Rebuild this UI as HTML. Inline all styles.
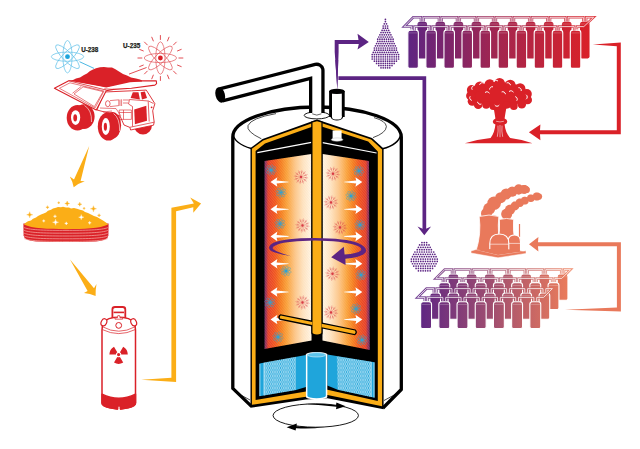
<!DOCTYPE html>
<html><head><meta charset="utf-8"><title>Uranium enrichment</title>
<style>
html,body{margin:0;padding:0;background:#fff;}
body{width:640px;height:449px;overflow:hidden;font-family:"Liberation Sans",sans-serif;}
svg{display:block;}
text{font-family:"Liberation Sans",sans-serif;font-weight:bold;}
</style></head><body>
<svg width="640" height="449" viewBox="0 0 640 449">
<defs>
<linearGradient id="gL" x1="264.5" y1="0" x2="311.5" y2="0" gradientUnits="userSpaceOnUse"><stop offset="0" stop-color="#6A2A66"/><stop offset="0.035" stop-color="#9A2A55"/><stop offset="0.075" stop-color="#E23A2A"/><stop offset="0.22" stop-color="#F0501F"/><stop offset="0.35" stop-color="#F47A1F"/><stop offset="0.48" stop-color="#F9A03C"/><stop offset="0.65" stop-color="#FCC58C"/><stop offset="0.82" stop-color="#FEE3C6"/><stop offset="1" stop-color="#FFF6EC"/></linearGradient>
<linearGradient id="gR" x1="322.5" y1="0" x2="369.5" y2="0" gradientUnits="userSpaceOnUse"><stop offset="0" stop-color="#FFF6EC"/><stop offset="0.18" stop-color="#FEE3C6"/><stop offset="0.35" stop-color="#FCC58C"/><stop offset="0.52" stop-color="#F9A03C"/><stop offset="0.65" stop-color="#F47A1F"/><stop offset="0.78" stop-color="#F0501F"/><stop offset="0.925" stop-color="#E23A2A"/><stop offset="0.965" stop-color="#9A2A55"/><stop offset="1" stop-color="#6A2A66"/></linearGradient>
<linearGradient id="gC1" x1="405" y1="0" x2="590" y2="0" gradientUnits="userSpaceOnUse">
 <stop offset="0" stop-color="#5C2483"/><stop offset="0.5" stop-color="#A3264F"/><stop offset="1" stop-color="#DA2128"/>
</linearGradient>
<linearGradient id="gC2" x1="417" y1="0" x2="572" y2="0" gradientUnits="userSpaceOnUse">
 <stop offset="0" stop-color="#5C2483"/><stop offset="0.5" stop-color="#A3506F"/><stop offset="1" stop-color="#EE7E5A"/>
</linearGradient>
<pattern id="dots" width="1.3" height="1.3" patternUnits="userSpaceOnUse" patternTransform="rotate(-32)">
 <rect x="0" y="0" width="1.3" height="0.5" fill="#FFE08A" fill-opacity="0.22"/>
</pattern>
<pattern id="hatch" width="2.2" height="4" patternUnits="userSpaceOnUse">
 <path d="M0.3,0 Q1.4,2 0.3,4 M1.9,0 Q0.8,2 1.9,4" stroke="#fff" stroke-opacity="0.8" stroke-width="0.6" fill="none"/>
</pattern>
</defs>
<rect width="640" height="449" fill="#fff"/>

<g id="atoms">
<g fill="none" stroke="#5FC0E8" stroke-width="0.7"><ellipse cx="67.5" cy="56.7" rx="16.2" ry="4.6" transform="rotate(0 67.5 56.7)"/><ellipse cx="67.5" cy="56.7" rx="16.2" ry="4.6" transform="rotate(45 67.5 56.7)"/><ellipse cx="67.5" cy="56.7" rx="16.2" ry="4.6" transform="rotate(90 67.5 56.7)"/><ellipse cx="67.5" cy="56.7" rx="16.2" ry="4.6" transform="rotate(135 67.5 56.7)"/></g><circle cx="67.5" cy="56.7" r="2.4" fill="#1FA5DB"/>
<g fill="none" stroke="#E2555A" stroke-width="0.7"><ellipse cx="160.4" cy="58" rx="16.2" ry="4.6" transform="rotate(0 160.4 58)"/><ellipse cx="160.4" cy="58" rx="16.2" ry="4.6" transform="rotate(45 160.4 58)"/><ellipse cx="160.4" cy="58" rx="16.2" ry="4.6" transform="rotate(90 160.4 58)"/><ellipse cx="160.4" cy="58" rx="16.2" ry="4.6" transform="rotate(135 160.4 58)"/></g><circle cx="160.4" cy="58" r="2.4" fill="#DA2128"/><g stroke="#DA2128" stroke-width="0.8" stroke-linecap="round"><line x1="178.9" y1="58.0" x2="182.9" y2="58.0"/><line x1="177.5" y1="65.1" x2="181.2" y2="66.6"/><line x1="173.5" y1="71.1" x2="176.3" y2="73.9"/><line x1="167.5" y1="75.1" x2="169.0" y2="78.8"/><line x1="160.4" y1="76.5" x2="160.4" y2="80.5"/><line x1="153.3" y1="75.1" x2="151.8" y2="78.8"/><line x1="147.3" y1="71.1" x2="144.5" y2="73.9"/><line x1="143.3" y1="65.1" x2="139.6" y2="66.6"/><line x1="141.9" y1="58.0" x2="137.9" y2="58.0"/><line x1="143.3" y1="50.9" x2="139.6" y2="49.4"/><line x1="147.3" y1="44.9" x2="144.5" y2="42.1"/><line x1="153.3" y1="40.9" x2="151.8" y2="37.2"/><line x1="160.4" y1="39.5" x2="160.4" y2="35.5"/><line x1="167.5" y1="40.9" x2="169.0" y2="37.2"/><line x1="173.5" y1="44.9" x2="176.3" y2="42.1"/><line x1="177.5" y1="50.9" x2="181.2" y2="49.4"/></g>
<line x1="79.5" y1="61.7" x2="94" y2="68.4" stroke="#1FA5DB" stroke-width="0.8"/>
<line x1="146.6" y1="67.5" x2="129" y2="74.1" stroke="#DA2128" stroke-width="0.8"/>
<text x="81.2" y="51.8" font-size="6.3" fill="#231F20" stroke="#231F20" stroke-width="0.25">U-238</text>
<text x="123" y="47.9" font-size="6.3" fill="#231F20" stroke="#231F20" stroke-width="0.25">U-235</text>
</g>
<g id="truck" stroke="#DA2128" stroke-width="1.1" stroke-linejoin="round" fill="#fff">
<!-- far front wheel under bumper -->
<ellipse cx="143" cy="125" rx="9" ry="9.6" fill="#DA2128" stroke="none"/>
<!-- rear wheel -->
<ellipse cx="84" cy="116.6" rx="10.6" ry="12.4" fill="#DA2128" stroke="none"/>
<ellipse cx="77.5" cy="117.7" rx="10.8" ry="12.8" fill="#DA2128" stroke="none"/>
<ellipse cx="75.6" cy="117.6" rx="4.6" ry="7.4" fill="#fff" stroke="none"/>
<ellipse cx="75.2" cy="117.8" rx="1.9" ry="3.6" fill="#DA2128" stroke="none"/>
<path d="M84.5,105.5 Q92,110 91.5,122" fill="none" stroke="#fff" stroke-width="0.6"/>
<!-- chassis / cab -->
<path d="M104.5,92 L131.4,90.8 L146.3,90.1 L154.9,103.7 L152.7,110.8 L154.2,122.2 L153.5,125.2 L130.6,130 L129.9,127.4 L124,125 L120,116 L97,110 Z" fill="#fff" stroke-width="0.9"/>
<path d="M132.8,92.3 L138.5,92.3 L139.9,99.4 L130.6,98 Z" fill="#DA2128" stroke="none"/>
<path d="M140.6,92.3 L144.9,91.5 L147,98 L142,99.4 Z" fill="#DA2128" stroke="none"/>
<path d="M134.2,109.4 L146.3,105.8 L147,120.8 L134.9,124.3 Z" fill="#DA2128" stroke="none"/>
<circle cx="151.6" cy="107.3" r="0.9" fill="#DA2128" stroke="none"/>
<path d="M129.5,99.5 L148.5,101 L153.5,103.5 M129.5,99.5 L128.5,104 L132.5,106.5 L132.5,126.5 M148.2,101.2 L149.2,121.5 M129.9,127.3 L154.2,122.2" fill="none" stroke-width="0.7"/>
<path d="M119.2,110 H131.4 V119.4 H119.2 Z M123.5,110 V119.4 M119.2,112.5 H131.4" fill="none" stroke-width="0.6"/>
<path d="M110,100.6 L118.8,99.8 L118.8,105.6 L110,106.6 M120,99.5 V106 M121.6,99.3 V106 M123,100 H129 M123,103 H128" fill="none" stroke-width="0.6"/>
<ellipse cx="107.8" cy="103.7" rx="2.3" ry="3" fill="#fff" stroke-width="0.7"/>
<path d="M100,108 L116,108.6 L121,116 M103,112 L112,111" fill="none" stroke-width="0.6"/>
<!-- front wheel -->
<ellipse cx="112.5" cy="125.2" rx="8.6" ry="13.2" fill="#DA2128" stroke="none"/>
<ellipse cx="108.5" cy="126.4" rx="10.7" ry="14.2" fill="#DA2128" stroke="none"/>
<ellipse cx="105.8" cy="126.6" rx="4" ry="8.5" fill="#fff" stroke="none"/>
<ellipse cx="105.4" cy="126.8" rx="1.6" ry="4" fill="#DA2128" stroke="none"/>
<path d="M113.5,113.5 Q120,118 119.6,131" fill="none" stroke="#fff" stroke-width="0.6"/>
<!-- bed -->
<path d="M54.4,88.3 L68.75,80.75 L75,80.75 L106.25,86.4 L130,80.75 L156.3,80.9 L156.6,83.6 L154.9,85.1 L131.4,88.3 L113.5,89.4 L106.25,90.75 L96.25,110.1 Z" fill="#fff"/>
<path d="M68.75,80.75 L106.25,90.1 M113.5,89.4 L104.3,88.9" fill="none" stroke-width="0.8"/>
<!-- ore heap -->
<path d="M71,81 L76,78.6 L80,77.6 L84,75 L87,73.6 L90,71 L93,69.6 L96,68.2 L100,67.2 L104,67 L108,67.4 L112,67.6 L115,69 L119,71.4 L123,74 L127,75.6 L131,77.4 L136,78.6 L140,79.4 L142,80.4 L142,81.6 L130,82.2 L106.25,87.4 L97.5,85.75 Z" fill="#DA2128" stroke="none"/>
<path d="M59.4,88.3 L70,82.8 L104,91 M104,91 L95,108 M59.4,88.3 L95,108" fill="none" stroke-width="0.6"/>
<path d="M72.5,93.25 L81.25,86.4 M74,94 L83.1,86.8 M83.1,86.8 L103.1,91.6 L94.4,106.6 L74,94" fill="none" stroke-width="0.6"/>
</g>
<g id="oarrows" fill="#FBAE17">
<path d="M89.2,145.9 L80.6,181 L84.8,181.2 Q78,183.4 73.7,187.2 Q72.6,181.4 69.8,176.4 L74,179.4 Z"/>
<path d="M70,259.5 L94,288.2 L96.5,284 Q95.4,290 95.6,296 Q90,293.6 84,293 L87.6,291 Z"/>
<path d="M141.2,379.8 L176.1,382 L176.1,211.2 L193.3,207.3 L193.3,212.8 L201.1,203.4 L190.2,197.5 L193.9,203.4 L171.4,207.8 L171.4,377.7 Z"/>
</g>
<g id="cake">
<path d="M23.4,223.6 L23.6,235.5 Q24,240.6 36,241.6 Q66,242.6 96,241.6 Q108,240.6 108.4,235.5 L108.6,223.6 Z" fill="#DA2128"/>
<path d="M24.2,227.6 C30,230.2 48,230.4 66,230.4 C84,230.4 102,230.2 107.8,227.6" stroke="#F4A7A0" stroke-width="0.75" fill="none"/>
<path d="M24.2,230.4 C30,233.0 48,233.20000000000002 66,233.20000000000002 C84,233.20000000000002 102,233.0 107.8,230.4" stroke="#F4A7A0" stroke-width="0.75" fill="none"/>
<path d="M24.2,233.2 C30,235.79999999999998 48,236.0 66,236.0 C84,236.0 102,235.79999999999998 107.8,233.2" stroke="#F4A7A0" stroke-width="0.75" fill="none"/>
<path d="M24.2,236 C30,238.6 48,238.8 66,238.8 C84,238.8 102,238.6 107.8,236" stroke="#F4A7A0" stroke-width="0.75" fill="none"/>
<path d="M24.2,238.6 C30,241.2 48,241.4 66,241.4 C84,241.4 102,241.2 107.8,238.6" stroke="#F4A7A0" stroke-width="0.75" fill="none"/>
<path d="M23.8,224.6 L26,222.6 L28,221.2 L31,220.4 L33,218.8 L36,217.6 L38,216 L41,214.6 L43,213.8 L46,212.6 L48,210.8 L51,209.8 L53,208.4 L56,207.8 L58,207 L61,207.2 L63,206.8 L66,207.4 L69,207.6 L71,208.4 L74,208 L77,208.8 L80,209.8 L83,210.6 L85,212 L88,213 L91,214.6 L94,216 L97,217 L100,218.8 L103,220.4 L106,222.4 L108.2,224.6 C100,228.6 84,229.2 66,229.2 C48,229.2 32,228.6 23.8,224.6 Z" fill="#FBAE17"/>
<path d="M29.6887305456591,211.75154697168574 Q29.6887305456591,214.75154697168574 32.6887305456591,214.75154697168574 Q29.6887305456591,214.75154697168574 29.6887305456591,217.75154697168574 Q29.6887305456591,214.75154697168574 26.6887305456591,214.75154697168574 Q29.6887305456591,214.75154697168574 29.6887305456591,211.75154697168574 Z" fill="#FBAE17" stroke="#FBAE17" stroke-width="0.35"/>
<path d="M47.50234389649353,205.65107819238702 Q47.50234389649353,207.251078192387 49.10234389649353,207.251078192387 Q47.50234389649353,207.251078192387 47.50234389649353,208.851078192387 Q47.50234389649353,207.251078192387 45.90234389649353,207.251078192387 Q47.50234389649353,207.251078192387 47.50234389649353,205.65107819238702 Z" fill="#FBAE17" stroke="#FBAE17" stroke-width="0.35"/>
<path d="M58.753047065441585,201.5507969248078 Q58.753047065441585,202.7507969248078 59.95304706544159,202.7507969248078 Q58.753047065441585,202.7507969248078 58.753047065441585,203.95079692480778 Q58.753047065441585,202.7507969248078 57.55304706544158,202.7507969248078 Q58.753047065441585,202.7507969248078 58.753047065441585,201.5507969248078 Z" fill="#FBAE17" stroke="#FBAE17" stroke-width="0.35"/>
<path d="M67.19107444215263,201.10084380273767 Q67.19107444215263,203.50084380273768 69.59107444215263,203.50084380273768 Q67.19107444215263,203.50084380273768 67.19107444215263,205.90084380273768 Q67.19107444215263,203.50084380273768 64.79107444215262,203.50084380273768 Q67.19107444215263,203.50084380273768 67.19107444215263,201.10084380273767 Z" fill="#FBAE17" stroke="#FBAE17" stroke-width="0.35"/>
<path d="M79.75435964747797,202.25089068066754 Q79.75435964747797,204.25089068066754 81.75435964747797,204.25089068066754 Q79.75435964747797,204.25089068066754 79.75435964747797,206.25089068066754 Q79.75435964747797,204.25089068066754 77.75435964747797,204.25089068066754 Q79.75435964747797,204.25089068066754 79.75435964747797,202.25089068066754 Z" fill="#FBAE17" stroke="#FBAE17" stroke-width="0.35"/>
<path d="M93.4427151696981,205.75117194824676 Q93.4427151696981,208.75117194824676 96.4427151696981,208.75117194824676 Q93.4427151696981,208.75117194824676 93.4427151696981,211.75117194824676 Q93.4427151696981,208.75117194824676 90.4427151696981,208.75117194824676 Q93.4427151696981,208.75117194824676 93.4427151696981,205.75117194824676 Z" fill="#FBAE17" stroke="#FBAE17" stroke-width="0.35"/>
<path d="M99.06806675417214,213.71408213013314 Q99.06806675417214,215.31408213013313 100.66806675417213,215.31408213013313 Q99.06806675417214,215.31408213013313 99.06806675417214,216.91408213013312 Q99.06806675417214,215.31408213013313 97.46806675417214,215.31408213013313 Q99.06806675417214,215.31408213013313 99.06806675417214,213.71408213013314 Z" fill="#FBAE17" stroke="#FBAE17" stroke-width="0.35"/>
<path d="M84.06712919557472,207.17614850928183 Q84.06712919557472,208.37614850928182 85.26712919557473,208.37614850928182 Q84.06712919557472,208.37614850928182 84.06712919557472,209.5761485092818 Q84.06712919557472,208.37614850928182 82.86712919557472,208.37614850928182 Q84.06712919557472,208.37614850928182 84.06712919557472,207.17614850928183 Z" fill="#FBAE17" stroke="#FBAE17" stroke-width="0.35"/>
<path d="M81.2544534033377,214.5891993249578 Q81.2544534033377,217.1891993249578 83.8544534033377,217.1891993249578 Q81.2544534033377,217.1891993249578 81.2544534033377,219.7891993249578 Q81.2544534033377,217.1891993249578 78.65445340333771,217.1891993249578 Q81.2544534033377,217.1891993249578 81.2544534033377,214.5891993249578 Z" fill="#fff" stroke="#fff" stroke-width="0.35"/>
<path d="M55.56534783423964,219.25201575098444 Q55.56534783423964,222.25201575098444 58.56534783423964,222.25201575098444 Q55.56534783423964,222.25201575098444 55.56534783423964,225.25201575098444 Q55.56534783423964,222.25201575098444 52.56534783423964,222.25201575098444 Q55.56534783423964,222.25201575098444 55.56534783423964,219.25201575098444 Z" fill="#fff" stroke="#fff" stroke-width="0.35"/>
<path d="M66.25351584474029,221.77708606787925 Q66.25351584474029,223.37708606787925 67.85351584474029,223.37708606787925 Q66.25351584474029,223.37708606787925 66.25351584474029,224.97708606787924 Q66.25351584474029,223.37708606787925 64.6535158447403,223.37708606787925 Q66.25351584474029,223.37708606787925 66.25351584474029,221.77708606787925 Z" fill="#fff" stroke="#fff" stroke-width="0.35"/>
<path d="M89.69248078004875,221.21455090943184 Q89.69248078004875,222.81455090943183 91.29248078004875,222.81455090943183 Q89.69248078004875,222.81455090943183 89.69248078004875,224.41455090943182 Q89.69248078004875,222.81455090943183 88.09248078004876,222.81455090943183 Q89.69248078004875,222.81455090943183 89.69248078004875,221.21455090943184 Z" fill="#fff" stroke="#fff" stroke-width="0.35"/>
<path d="M43.75210950684418,219.53943371460716 Q43.75210950684418,220.93943371460716 45.15210950684418,220.93943371460716 Q43.75210950684418,220.93943371460716 43.75210950684418,222.33943371460717 Q43.75210950684418,220.93943371460716 42.35210950684418,220.93943371460716 Q43.75210950684418,220.93943371460716 43.75210950684418,219.53943371460716 Z" fill="#fff" stroke="#fff" stroke-width="0.35"/>
<path d="M55.002812675792235,214.65164072754547 Q55.002812675792235,216.25164072754546 56.60281267579224,216.25164072754546 Q55.002812675792235,216.25164072754546 55.002812675792235,217.85164072754546 Q55.002812675792235,216.25164072754546 53.402812675792234,216.25164072754546 Q55.002812675792235,216.25164072754546 55.002812675792235,214.65164072754547 Z" fill="#fff" stroke="#fff" stroke-width="0.35"/>
</g>
<g id="canister" stroke="#DA2128" fill="#fff" stroke-width="1.5" stroke-linejoin="round">
<path d="M112.4,318.6 L112.4,309.4 Q112.4,307 115,307 L122.7,307 Q125.3,307 125.3,309.4 L125.3,318.6" fill="#fff" stroke-width="1.8"/>
<path d="M113.6,312.4 H124" fill="none" stroke-width="1.6"/>
<path d="M102,330 Q102,321 109,318.6 Q118.7,316 128.4,318.6 Q135.5,321 135.5,330 L135.5,403 Q135.5,406.2 128,407.8 L120.5,409 L120.5,406.4 Q119,404.6 117.5,406.4 L117.5,409 L110,407.8 Q102,406.2 102,403 Z"/>
<path d="M102,394.2 Q118.8,402.4 135.5,394.2 L135.5,403 Q135.5,406.2 128,407.8 L120.5,409 L120.5,406.4 Q119,404.6 117.5,406.4 L117.5,409 L110,407.8 Q102,406.2 102,403 Z" fill="#DA2128"/>
<path d="M102.6,326.8 Q118.7,335.6 135,326.8 M102.4,329.6 Q118.7,337.6 135.2,329.6" fill="none" stroke-width="0.7"/>
<circle cx="118.7" cy="325.4" r="2.9" stroke-width="1"/>
<ellipse cx="103.9" cy="322.3" rx="2.7" ry="3.7" stroke-width="1.2" transform="rotate(25 103.9 322.3)"/>
<ellipse cx="133.7" cy="322.3" rx="2.7" ry="3.7" stroke-width="1.2" transform="rotate(-25 133.7 322.3)"/>
<path d="M115,319.2 L115,317.8 L117.4,317.8 L117.8,315.6 L119.6,315.6 L120,317.8 L122.6,317.8 L122.6,319.2 Z" fill="#fff" stroke-width="0.7"/>
</g>
<g fill="#DA2128"><circle cx="118.6" cy="354.6" r="1.6"/><path d="M119.95,352.26 L123.20,346.63 A9.2,9.2 0 0 1 127.80,354.60 L121.30,354.60 A2.7,2.7 0 0 0 119.95,352.26 Z"/><path d="M119.95,356.94 L123.20,362.57 A9.2,9.2 0 0 1 114.00,362.57 L117.25,356.94 A2.7,2.7 0 0 0 119.95,356.94 Z"/><path d="M115.90,354.60 L109.40,354.60 A9.2,9.2 0 0 1 114.00,346.63 L117.25,352.26 A2.7,2.7 0 0 0 115.90,354.60 Z"/></g>
<g id="purple" fill="#5C2483">
<path d="M337.3,89 L334.7,52 L334.7,39.9 L358.5,39.9 L357.5,33.7 L368.8,42 L357.5,49.6 L358.8,44.1 L338.6,44.1 L338.6,52 Z"/>
<path d="M338.4,76.3 H426.2 V230 H422.5 V80 H338.4 Z"/>
<path d="M417.5,226.6 L424.3,229.6 L431.1,226.6 L424.3,235.2 Z"/>
</g>
<g id="centrifuge">
<path d="M232.8,137 A84.25,30 0 0 1 401.3,137 L401.3,389.5 L383,407.5 L251.5,406 L232.8,388.4 Z" fill="#fff"/>
<path d="M251.5,406.4 L232.8,388.4 L232.8,137 A84.25,30 0 0 1 401.3,137 L401.3,389.5 L383,408" fill="none" stroke="#000" stroke-width="3.3" stroke-linejoin="round"/>
<path d="M234.4,391.5 L250,400 M399,392.4 L384,400.5" stroke="#000" stroke-width="0.7" fill="none"/>
<path d="M261.4,138.8 Q246,131.5 248,125.6 Q251,118 276,113.6" stroke="#000" stroke-width="0.7" fill="none"/>
<path d="M373,137.6 Q386,133 386.4,126.6 Q386,121 374,117.6" stroke="#000" stroke-width="0.7" fill="none"/>
<path d="M232.9,134 C234,141 241,145.5 251.2,148.5 M382.5,148.8 C392,146.4 399.4,141 401.2,134" stroke="#000" stroke-width="1.5" fill="none"/>
<path d="M317,119.6 L372,138 L383.6,148.6 L383.6,409.2 L327.5,398.2 L306,399.6 L250.5,407.8 L250.5,148 L262.6,139 Z" fill="#000"/>
<path d="M317,121.4 L371.2,139.4 L382.1,149.4 L382.1,406.2 L327.5,395 L306,396.8 L251.9,404.8 L251.9,148.8 L263.2,140.4 Z" fill="#FBAE17"/>
<path d="M317,125 L368.2,141.6 L377.8,151.4 L377.8,401 L327.5,389.8 L306,391.5 L255.6,400 L255.6,151 L265,143.4 Z" fill="#000"/>
<path d="M257.3,152.6 L311.5,142.4 M322.5,142.6 L376.6,153" stroke="#fff" stroke-width="1.2" fill="none"/>
<rect x="332.6" y="130.5" width="9" height="9" fill="#fff"/><ellipse cx="337.1" cy="139.6" rx="5.8" ry="1.7" fill="#fff" stroke="#bbb" stroke-width="0.5"/>
<path d="M264.5,161 L311.5,154 L311.5,340.5 L264.5,349 Z" fill="url(#gL)"/>
<path d="M322.5,154 L369,161 L369.8,350 L322.5,340.5 Z" fill="url(#gR)"/>
<path d="M264.5,161 L311.5,154 L311.5,340.5 L264.5,349 Z" fill="url(#dots)"/>
<path d="M322.5,154 L369,161 L369.8,350 L322.5,340.5 Z" fill="url(#dots)"/>
<g stroke="#D93A44" stroke-width="0.4" stroke-opacity="0.7" stroke-linecap="round" fill="none"><line x1="301.0" y1="177.0" x2="307.7" y2="177.9"/><line x1="305.2" y1="177.6" x2="306.6" y2="177.1"/><line x1="305.2" y1="177.6" x2="306.4" y2="178.5"/><line x1="301.0" y1="177.0" x2="306.4" y2="181.2"/><line x1="304.3" y1="179.6" x2="305.8" y2="179.8"/><line x1="304.3" y1="179.6" x2="304.9" y2="181.0"/><line x1="301.0" y1="177.0" x2="303.5" y2="183.3"/><line x1="302.6" y1="180.9" x2="303.7" y2="181.9"/><line x1="302.6" y1="180.9" x2="302.4" y2="182.4"/><line x1="301.0" y1="177.0" x2="300.1" y2="183.7"/><line x1="300.4" y1="181.2" x2="300.9" y2="182.6"/><line x1="300.4" y1="181.2" x2="299.5" y2="182.4"/><line x1="301.0" y1="177.0" x2="296.8" y2="182.4"/><line x1="298.4" y1="180.3" x2="298.2" y2="181.8"/><line x1="298.4" y1="180.3" x2="297.0" y2="180.9"/><line x1="301.0" y1="177.0" x2="294.7" y2="179.5"/><line x1="297.1" y1="178.6" x2="296.1" y2="179.7"/><line x1="297.1" y1="178.6" x2="295.6" y2="178.4"/><line x1="301.0" y1="177.0" x2="294.3" y2="176.1"/><line x1="296.8" y1="176.4" x2="295.4" y2="176.9"/><line x1="296.8" y1="176.4" x2="295.6" y2="175.5"/><line x1="301.0" y1="177.0" x2="295.6" y2="172.8"/><line x1="297.7" y1="174.4" x2="296.2" y2="174.2"/><line x1="297.7" y1="174.4" x2="297.1" y2="173.0"/><line x1="301.0" y1="177.0" x2="298.5" y2="170.7"/><line x1="299.4" y1="173.1" x2="298.3" y2="172.1"/><line x1="299.4" y1="173.1" x2="299.6" y2="171.6"/><line x1="301.0" y1="177.0" x2="301.9" y2="170.3"/><line x1="301.6" y1="172.8" x2="301.1" y2="171.4"/><line x1="301.6" y1="172.8" x2="302.5" y2="171.6"/><line x1="301.0" y1="177.0" x2="305.2" y2="171.6"/><line x1="303.6" y1="173.7" x2="303.8" y2="172.2"/><line x1="303.6" y1="173.7" x2="305.0" y2="173.1"/><line x1="301.0" y1="177.0" x2="307.3" y2="174.5"/><line x1="304.9" y1="175.4" x2="305.9" y2="174.3"/><line x1="304.9" y1="175.4" x2="306.4" y2="175.6"/></g><circle cx="301" cy="177" r="1.15" fill="#D93A44"/>
<g stroke="#D93A44" stroke-width="0.4" stroke-opacity="0.7" stroke-linecap="round" fill="none"><line x1="333.0" y1="173.8" x2="339.7" y2="174.7"/><line x1="337.2" y1="174.3" x2="338.6" y2="173.8"/><line x1="337.2" y1="174.3" x2="338.4" y2="175.2"/><line x1="333.0" y1="173.8" x2="338.4" y2="177.9"/><line x1="336.3" y1="176.3" x2="337.8" y2="176.6"/><line x1="336.3" y1="176.3" x2="336.9" y2="177.7"/><line x1="333.0" y1="173.8" x2="335.5" y2="180.1"/><line x1="334.6" y1="177.7" x2="335.7" y2="178.6"/><line x1="334.6" y1="177.7" x2="334.4" y2="179.1"/><line x1="333.0" y1="173.8" x2="332.1" y2="180.5"/><line x1="332.4" y1="177.9" x2="332.9" y2="179.3"/><line x1="332.4" y1="177.9" x2="331.5" y2="179.1"/><line x1="333.0" y1="173.8" x2="328.8" y2="179.1"/><line x1="330.4" y1="177.1" x2="330.2" y2="178.5"/><line x1="330.4" y1="177.1" x2="329.0" y2="177.7"/><line x1="333.0" y1="173.8" x2="326.7" y2="176.3"/><line x1="329.1" y1="175.3" x2="328.1" y2="176.5"/><line x1="329.1" y1="175.3" x2="327.6" y2="175.2"/><line x1="333.0" y1="173.8" x2="326.3" y2="172.8"/><line x1="328.8" y1="173.2" x2="327.4" y2="173.7"/><line x1="328.8" y1="173.2" x2="327.6" y2="172.3"/><line x1="333.0" y1="173.8" x2="327.6" y2="169.6"/><line x1="329.7" y1="171.2" x2="328.2" y2="170.9"/><line x1="329.7" y1="171.2" x2="329.1" y2="169.8"/><line x1="333.0" y1="173.8" x2="330.5" y2="167.4"/><line x1="331.4" y1="169.8" x2="330.3" y2="168.9"/><line x1="331.4" y1="169.8" x2="331.6" y2="168.4"/><line x1="333.0" y1="173.8" x2="333.9" y2="167.0"/><line x1="333.6" y1="169.6" x2="333.1" y2="168.2"/><line x1="333.6" y1="169.6" x2="334.5" y2="168.4"/><line x1="333.0" y1="173.8" x2="337.2" y2="168.4"/><line x1="335.6" y1="170.4" x2="335.8" y2="169.0"/><line x1="335.6" y1="170.4" x2="337.0" y2="169.8"/><line x1="333.0" y1="173.8" x2="339.3" y2="171.2"/><line x1="336.9" y1="172.2" x2="337.9" y2="171.0"/><line x1="336.9" y1="172.2" x2="338.4" y2="172.3"/></g><circle cx="333" cy="173.75" r="1.15" fill="#D93A44"/>
<g stroke="#D93A44" stroke-width="0.4" stroke-opacity="0.7" stroke-linecap="round" fill="none"><line x1="331.0" y1="202.5" x2="337.7" y2="203.4"/><line x1="335.2" y1="203.1" x2="336.6" y2="202.6"/><line x1="335.2" y1="203.1" x2="336.4" y2="204.0"/><line x1="331.0" y1="202.5" x2="336.4" y2="206.7"/><line x1="334.3" y1="205.1" x2="335.8" y2="205.3"/><line x1="334.3" y1="205.1" x2="334.9" y2="206.5"/><line x1="331.0" y1="202.5" x2="333.5" y2="208.8"/><line x1="332.6" y1="206.4" x2="333.7" y2="207.4"/><line x1="332.6" y1="206.4" x2="332.4" y2="207.9"/><line x1="331.0" y1="202.5" x2="330.1" y2="209.2"/><line x1="330.4" y1="206.7" x2="330.9" y2="208.1"/><line x1="330.4" y1="206.7" x2="329.5" y2="207.9"/><line x1="331.0" y1="202.5" x2="326.8" y2="207.9"/><line x1="328.4" y1="205.8" x2="328.2" y2="207.3"/><line x1="328.4" y1="205.8" x2="327.0" y2="206.4"/><line x1="331.0" y1="202.5" x2="324.7" y2="205.0"/><line x1="327.1" y1="204.1" x2="326.1" y2="205.2"/><line x1="327.1" y1="204.1" x2="325.6" y2="203.9"/><line x1="331.0" y1="202.5" x2="324.3" y2="201.6"/><line x1="326.8" y1="201.9" x2="325.4" y2="202.4"/><line x1="326.8" y1="201.9" x2="325.6" y2="201.0"/><line x1="331.0" y1="202.5" x2="325.6" y2="198.3"/><line x1="327.7" y1="199.9" x2="326.2" y2="199.7"/><line x1="327.7" y1="199.9" x2="327.1" y2="198.5"/><line x1="331.0" y1="202.5" x2="328.5" y2="196.2"/><line x1="329.4" y1="198.6" x2="328.3" y2="197.6"/><line x1="329.4" y1="198.6" x2="329.6" y2="197.1"/><line x1="331.0" y1="202.5" x2="331.9" y2="195.8"/><line x1="331.6" y1="198.3" x2="331.1" y2="196.9"/><line x1="331.6" y1="198.3" x2="332.5" y2="197.1"/><line x1="331.0" y1="202.5" x2="335.2" y2="197.1"/><line x1="333.6" y1="199.2" x2="333.8" y2="197.7"/><line x1="333.6" y1="199.2" x2="335.0" y2="198.6"/><line x1="331.0" y1="202.5" x2="337.3" y2="200.0"/><line x1="334.9" y1="200.9" x2="335.9" y2="199.8"/><line x1="334.9" y1="200.9" x2="336.4" y2="201.1"/></g><circle cx="331" cy="202.5" r="1.15" fill="#D93A44"/>
<g stroke="#D93A44" stroke-width="0.4" stroke-opacity="0.7" stroke-linecap="round" fill="none"><line x1="302.5" y1="225.5" x2="309.2" y2="226.4"/><line x1="306.7" y1="226.1" x2="308.1" y2="225.6"/><line x1="306.7" y1="226.1" x2="307.9" y2="227.0"/><line x1="302.5" y1="225.5" x2="307.9" y2="229.7"/><line x1="305.8" y1="228.1" x2="307.3" y2="228.3"/><line x1="305.8" y1="228.1" x2="306.4" y2="229.5"/><line x1="302.5" y1="225.5" x2="305.0" y2="231.8"/><line x1="304.1" y1="229.4" x2="305.2" y2="230.4"/><line x1="304.1" y1="229.4" x2="303.9" y2="230.9"/><line x1="302.5" y1="225.5" x2="301.6" y2="232.2"/><line x1="301.9" y1="229.7" x2="302.4" y2="231.1"/><line x1="301.9" y1="229.7" x2="301.0" y2="230.9"/><line x1="302.5" y1="225.5" x2="298.3" y2="230.9"/><line x1="299.9" y1="228.8" x2="299.7" y2="230.3"/><line x1="299.9" y1="228.8" x2="298.5" y2="229.4"/><line x1="302.5" y1="225.5" x2="296.2" y2="228.0"/><line x1="298.6" y1="227.1" x2="297.6" y2="228.2"/><line x1="298.6" y1="227.1" x2="297.1" y2="226.9"/><line x1="302.5" y1="225.5" x2="295.8" y2="224.6"/><line x1="298.3" y1="224.9" x2="296.9" y2="225.4"/><line x1="298.3" y1="224.9" x2="297.1" y2="224.0"/><line x1="302.5" y1="225.5" x2="297.1" y2="221.3"/><line x1="299.2" y1="222.9" x2="297.7" y2="222.7"/><line x1="299.2" y1="222.9" x2="298.6" y2="221.5"/><line x1="302.5" y1="225.5" x2="300.0" y2="219.2"/><line x1="300.9" y1="221.6" x2="299.8" y2="220.6"/><line x1="300.9" y1="221.6" x2="301.1" y2="220.1"/><line x1="302.5" y1="225.5" x2="303.4" y2="218.8"/><line x1="303.1" y1="221.3" x2="302.6" y2="219.9"/><line x1="303.1" y1="221.3" x2="304.0" y2="220.1"/><line x1="302.5" y1="225.5" x2="306.7" y2="220.1"/><line x1="305.1" y1="222.2" x2="305.3" y2="220.7"/><line x1="305.1" y1="222.2" x2="306.5" y2="221.6"/><line x1="302.5" y1="225.5" x2="308.8" y2="223.0"/><line x1="306.4" y1="223.9" x2="307.4" y2="222.8"/><line x1="306.4" y1="223.9" x2="307.9" y2="224.1"/></g><circle cx="302.5" cy="225.5" r="1.15" fill="#D93A44"/>
<g stroke="#D93A44" stroke-width="0.4" stroke-opacity="0.7" stroke-linecap="round" fill="none"><line x1="340.0" y1="227.5" x2="346.7" y2="228.4"/><line x1="344.2" y1="228.1" x2="345.6" y2="227.6"/><line x1="344.2" y1="228.1" x2="345.4" y2="229.0"/><line x1="340.0" y1="227.5" x2="345.4" y2="231.7"/><line x1="343.3" y1="230.1" x2="344.8" y2="230.3"/><line x1="343.3" y1="230.1" x2="343.9" y2="231.5"/><line x1="340.0" y1="227.5" x2="342.5" y2="233.8"/><line x1="341.6" y1="231.4" x2="342.7" y2="232.4"/><line x1="341.6" y1="231.4" x2="341.4" y2="232.9"/><line x1="340.0" y1="227.5" x2="339.1" y2="234.2"/><line x1="339.4" y1="231.7" x2="339.9" y2="233.1"/><line x1="339.4" y1="231.7" x2="338.5" y2="232.9"/><line x1="340.0" y1="227.5" x2="335.8" y2="232.9"/><line x1="337.4" y1="230.8" x2="337.2" y2="232.3"/><line x1="337.4" y1="230.8" x2="336.0" y2="231.4"/><line x1="340.0" y1="227.5" x2="333.7" y2="230.0"/><line x1="336.1" y1="229.1" x2="335.1" y2="230.2"/><line x1="336.1" y1="229.1" x2="334.6" y2="228.9"/><line x1="340.0" y1="227.5" x2="333.3" y2="226.6"/><line x1="335.8" y1="226.9" x2="334.4" y2="227.4"/><line x1="335.8" y1="226.9" x2="334.6" y2="226.0"/><line x1="340.0" y1="227.5" x2="334.6" y2="223.3"/><line x1="336.7" y1="224.9" x2="335.2" y2="224.7"/><line x1="336.7" y1="224.9" x2="336.1" y2="223.5"/><line x1="340.0" y1="227.5" x2="337.5" y2="221.2"/><line x1="338.4" y1="223.6" x2="337.3" y2="222.6"/><line x1="338.4" y1="223.6" x2="338.6" y2="222.1"/><line x1="340.0" y1="227.5" x2="340.9" y2="220.8"/><line x1="340.6" y1="223.3" x2="340.1" y2="221.9"/><line x1="340.6" y1="223.3" x2="341.5" y2="222.1"/><line x1="340.0" y1="227.5" x2="344.2" y2="222.1"/><line x1="342.6" y1="224.2" x2="342.8" y2="222.7"/><line x1="342.6" y1="224.2" x2="344.0" y2="223.6"/><line x1="340.0" y1="227.5" x2="346.3" y2="225.0"/><line x1="343.9" y1="225.9" x2="344.9" y2="224.8"/><line x1="343.9" y1="225.9" x2="345.4" y2="226.1"/></g><circle cx="340" cy="227.5" r="1.15" fill="#D93A44"/>
<g stroke="#D93A44" stroke-width="0.4" stroke-opacity="0.7" stroke-linecap="round" fill="none"><line x1="332.5" y1="273.8" x2="339.2" y2="274.7"/><line x1="336.7" y1="274.3" x2="338.1" y2="273.8"/><line x1="336.7" y1="274.3" x2="337.9" y2="275.2"/><line x1="332.5" y1="273.8" x2="337.9" y2="277.9"/><line x1="335.8" y1="276.3" x2="337.3" y2="276.6"/><line x1="335.8" y1="276.3" x2="336.4" y2="277.7"/><line x1="332.5" y1="273.8" x2="335.0" y2="280.1"/><line x1="334.1" y1="277.7" x2="335.2" y2="278.6"/><line x1="334.1" y1="277.7" x2="333.9" y2="279.1"/><line x1="332.5" y1="273.8" x2="331.6" y2="280.5"/><line x1="331.9" y1="277.9" x2="332.4" y2="279.3"/><line x1="331.9" y1="277.9" x2="331.0" y2="279.1"/><line x1="332.5" y1="273.8" x2="328.3" y2="279.1"/><line x1="329.9" y1="277.1" x2="329.7" y2="278.5"/><line x1="329.9" y1="277.1" x2="328.5" y2="277.7"/><line x1="332.5" y1="273.8" x2="326.2" y2="276.3"/><line x1="328.6" y1="275.3" x2="327.6" y2="276.5"/><line x1="328.6" y1="275.3" x2="327.1" y2="275.2"/><line x1="332.5" y1="273.8" x2="325.8" y2="272.8"/><line x1="328.3" y1="273.2" x2="326.9" y2="273.7"/><line x1="328.3" y1="273.2" x2="327.1" y2="272.3"/><line x1="332.5" y1="273.8" x2="327.1" y2="269.6"/><line x1="329.2" y1="271.2" x2="327.7" y2="270.9"/><line x1="329.2" y1="271.2" x2="328.6" y2="269.8"/><line x1="332.5" y1="273.8" x2="330.0" y2="267.4"/><line x1="330.9" y1="269.8" x2="329.8" y2="268.9"/><line x1="330.9" y1="269.8" x2="331.1" y2="268.4"/><line x1="332.5" y1="273.8" x2="333.4" y2="267.0"/><line x1="333.1" y1="269.6" x2="332.6" y2="268.2"/><line x1="333.1" y1="269.6" x2="334.0" y2="268.4"/><line x1="332.5" y1="273.8" x2="336.7" y2="268.4"/><line x1="335.1" y1="270.4" x2="335.3" y2="269.0"/><line x1="335.1" y1="270.4" x2="336.5" y2="269.8"/><line x1="332.5" y1="273.8" x2="338.8" y2="271.2"/><line x1="336.4" y1="272.2" x2="337.4" y2="271.0"/><line x1="336.4" y1="272.2" x2="337.9" y2="272.3"/></g><circle cx="332.5" cy="273.75" r="1.15" fill="#D93A44"/>
<g stroke="#D93A44" stroke-width="0.4" stroke-opacity="0.7" stroke-linecap="round" fill="none"><line x1="302.5" y1="302.5" x2="309.2" y2="303.4"/><line x1="306.7" y1="303.1" x2="308.1" y2="302.6"/><line x1="306.7" y1="303.1" x2="307.9" y2="304.0"/><line x1="302.5" y1="302.5" x2="307.9" y2="306.7"/><line x1="305.8" y1="305.1" x2="307.3" y2="305.3"/><line x1="305.8" y1="305.1" x2="306.4" y2="306.5"/><line x1="302.5" y1="302.5" x2="305.0" y2="308.8"/><line x1="304.1" y1="306.4" x2="305.2" y2="307.4"/><line x1="304.1" y1="306.4" x2="303.9" y2="307.9"/><line x1="302.5" y1="302.5" x2="301.6" y2="309.2"/><line x1="301.9" y1="306.7" x2="302.4" y2="308.1"/><line x1="301.9" y1="306.7" x2="301.0" y2="307.9"/><line x1="302.5" y1="302.5" x2="298.3" y2="307.9"/><line x1="299.9" y1="305.8" x2="299.7" y2="307.3"/><line x1="299.9" y1="305.8" x2="298.5" y2="306.4"/><line x1="302.5" y1="302.5" x2="296.2" y2="305.0"/><line x1="298.6" y1="304.1" x2="297.6" y2="305.2"/><line x1="298.6" y1="304.1" x2="297.1" y2="303.9"/><line x1="302.5" y1="302.5" x2="295.8" y2="301.6"/><line x1="298.3" y1="301.9" x2="296.9" y2="302.4"/><line x1="298.3" y1="301.9" x2="297.1" y2="301.0"/><line x1="302.5" y1="302.5" x2="297.1" y2="298.3"/><line x1="299.2" y1="299.9" x2="297.7" y2="299.7"/><line x1="299.2" y1="299.9" x2="298.6" y2="298.5"/><line x1="302.5" y1="302.5" x2="300.0" y2="296.2"/><line x1="300.9" y1="298.6" x2="299.8" y2="297.6"/><line x1="300.9" y1="298.6" x2="301.1" y2="297.1"/><line x1="302.5" y1="302.5" x2="303.4" y2="295.8"/><line x1="303.1" y1="298.3" x2="302.6" y2="296.9"/><line x1="303.1" y1="298.3" x2="304.0" y2="297.1"/><line x1="302.5" y1="302.5" x2="306.7" y2="297.1"/><line x1="305.1" y1="299.2" x2="305.3" y2="297.7"/><line x1="305.1" y1="299.2" x2="306.5" y2="298.6"/><line x1="302.5" y1="302.5" x2="308.8" y2="300.0"/><line x1="306.4" y1="300.9" x2="307.4" y2="299.8"/><line x1="306.4" y1="300.9" x2="307.9" y2="301.1"/></g><circle cx="302.5" cy="302.5" r="1.15" fill="#D93A44"/>
<g stroke="#D93A44" stroke-width="0.4" stroke-opacity="0.7" stroke-linecap="round" fill="none"><line x1="331.0" y1="312.5" x2="337.7" y2="313.4"/><line x1="335.2" y1="313.1" x2="336.6" y2="312.6"/><line x1="335.2" y1="313.1" x2="336.4" y2="314.0"/><line x1="331.0" y1="312.5" x2="336.4" y2="316.7"/><line x1="334.3" y1="315.1" x2="335.8" y2="315.3"/><line x1="334.3" y1="315.1" x2="334.9" y2="316.5"/><line x1="331.0" y1="312.5" x2="333.5" y2="318.8"/><line x1="332.6" y1="316.4" x2="333.7" y2="317.4"/><line x1="332.6" y1="316.4" x2="332.4" y2="317.9"/><line x1="331.0" y1="312.5" x2="330.1" y2="319.2"/><line x1="330.4" y1="316.7" x2="330.9" y2="318.1"/><line x1="330.4" y1="316.7" x2="329.5" y2="317.9"/><line x1="331.0" y1="312.5" x2="326.8" y2="317.9"/><line x1="328.4" y1="315.8" x2="328.2" y2="317.3"/><line x1="328.4" y1="315.8" x2="327.0" y2="316.4"/><line x1="331.0" y1="312.5" x2="324.7" y2="315.0"/><line x1="327.1" y1="314.1" x2="326.1" y2="315.2"/><line x1="327.1" y1="314.1" x2="325.6" y2="313.9"/><line x1="331.0" y1="312.5" x2="324.3" y2="311.6"/><line x1="326.8" y1="311.9" x2="325.4" y2="312.4"/><line x1="326.8" y1="311.9" x2="325.6" y2="311.0"/><line x1="331.0" y1="312.5" x2="325.6" y2="308.3"/><line x1="327.7" y1="309.9" x2="326.2" y2="309.7"/><line x1="327.7" y1="309.9" x2="327.1" y2="308.5"/><line x1="331.0" y1="312.5" x2="328.5" y2="306.2"/><line x1="329.4" y1="308.6" x2="328.3" y2="307.6"/><line x1="329.4" y1="308.6" x2="329.6" y2="307.1"/><line x1="331.0" y1="312.5" x2="331.9" y2="305.8"/><line x1="331.6" y1="308.3" x2="331.1" y2="306.9"/><line x1="331.6" y1="308.3" x2="332.5" y2="307.1"/><line x1="331.0" y1="312.5" x2="335.2" y2="307.1"/><line x1="333.6" y1="309.2" x2="333.8" y2="307.7"/><line x1="333.6" y1="309.2" x2="335.0" y2="308.6"/><line x1="331.0" y1="312.5" x2="337.3" y2="310.0"/><line x1="334.9" y1="310.9" x2="335.9" y2="309.8"/><line x1="334.9" y1="310.9" x2="336.4" y2="311.1"/></g><circle cx="331" cy="312.5" r="1.15" fill="#D93A44"/>
<g stroke="#2BA3D6" stroke-width="0.45" stroke-opacity="0.8" fill="none"><ellipse cx="271" cy="170" rx="5.4" ry="1.62" transform="rotate(12 271 170)"/><ellipse cx="271" cy="170" rx="5.4" ry="1.62" transform="rotate(57 271 170)"/><ellipse cx="271" cy="170" rx="5.4" ry="1.62" transform="rotate(102 271 170)"/><ellipse cx="271" cy="170" rx="5.4" ry="1.62" transform="rotate(147 271 170)"/></g><circle cx="271" cy="170" r="1.35" fill="#2BA3D6"/>
<g stroke="#2BA3D6" stroke-width="0.45" stroke-opacity="0.8" fill="none"><ellipse cx="358.75" cy="171" rx="5.4" ry="1.62" transform="rotate(12 358.75 171)"/><ellipse cx="358.75" cy="171" rx="5.4" ry="1.62" transform="rotate(57 358.75 171)"/><ellipse cx="358.75" cy="171" rx="5.4" ry="1.62" transform="rotate(102 358.75 171)"/><ellipse cx="358.75" cy="171" rx="5.4" ry="1.62" transform="rotate(147 358.75 171)"/></g><circle cx="358.75" cy="171" r="1.35" fill="#2BA3D6"/>
<g stroke="#2BA3D6" stroke-width="0.45" stroke-opacity="0.8" fill="none"><ellipse cx="281" cy="192.5" rx="5.4" ry="1.62" transform="rotate(12 281 192.5)"/><ellipse cx="281" cy="192.5" rx="5.4" ry="1.62" transform="rotate(57 281 192.5)"/><ellipse cx="281" cy="192.5" rx="5.4" ry="1.62" transform="rotate(102 281 192.5)"/><ellipse cx="281" cy="192.5" rx="5.4" ry="1.62" transform="rotate(147 281 192.5)"/></g><circle cx="281" cy="192.5" r="1.35" fill="#2BA3D6"/>
<g stroke="#2BA3D6" stroke-width="0.45" stroke-opacity="0.8" fill="none"><ellipse cx="351" cy="196" rx="5.4" ry="1.62" transform="rotate(12 351 196)"/><ellipse cx="351" cy="196" rx="5.4" ry="1.62" transform="rotate(57 351 196)"/><ellipse cx="351" cy="196" rx="5.4" ry="1.62" transform="rotate(102 351 196)"/><ellipse cx="351" cy="196" rx="5.4" ry="1.62" transform="rotate(147 351 196)"/></g><circle cx="351" cy="196" r="1.35" fill="#2BA3D6"/>
<g stroke="#2BA3D6" stroke-width="0.45" stroke-opacity="0.8" fill="none"><ellipse cx="280" cy="223.75" rx="5.4" ry="1.62" transform="rotate(12 280 223.75)"/><ellipse cx="280" cy="223.75" rx="5.4" ry="1.62" transform="rotate(57 280 223.75)"/><ellipse cx="280" cy="223.75" rx="5.4" ry="1.62" transform="rotate(102 280 223.75)"/><ellipse cx="280" cy="223.75" rx="5.4" ry="1.62" transform="rotate(147 280 223.75)"/></g><circle cx="280" cy="223.75" r="1.35" fill="#2BA3D6"/>
<g stroke="#2BA3D6" stroke-width="0.45" stroke-opacity="0.8" fill="none"><ellipse cx="360" cy="225" rx="5.4" ry="1.62" transform="rotate(12 360 225)"/><ellipse cx="360" cy="225" rx="5.4" ry="1.62" transform="rotate(57 360 225)"/><ellipse cx="360" cy="225" rx="5.4" ry="1.62" transform="rotate(102 360 225)"/><ellipse cx="360" cy="225" rx="5.4" ry="1.62" transform="rotate(147 360 225)"/></g><circle cx="360" cy="225" r="1.35" fill="#2BA3D6"/>
<g stroke="#2BA3D6" stroke-width="0.45" stroke-opacity="0.8" fill="none"><ellipse cx="286" cy="271" rx="5.4" ry="1.62" transform="rotate(12 286 271)"/><ellipse cx="286" cy="271" rx="5.4" ry="1.62" transform="rotate(57 286 271)"/><ellipse cx="286" cy="271" rx="5.4" ry="1.62" transform="rotate(102 286 271)"/><ellipse cx="286" cy="271" rx="5.4" ry="1.62" transform="rotate(147 286 271)"/></g><circle cx="286" cy="271" r="1.35" fill="#2BA3D6"/>
<g stroke="#2BA3D6" stroke-width="0.45" stroke-opacity="0.8" fill="none"><ellipse cx="361" cy="275" rx="5.4" ry="1.62" transform="rotate(12 361 275)"/><ellipse cx="361" cy="275" rx="5.4" ry="1.62" transform="rotate(57 361 275)"/><ellipse cx="361" cy="275" rx="5.4" ry="1.62" transform="rotate(102 361 275)"/><ellipse cx="361" cy="275" rx="5.4" ry="1.62" transform="rotate(147 361 275)"/></g><circle cx="361" cy="275" r="1.35" fill="#2BA3D6"/>
<g stroke="#2BA3D6" stroke-width="0.45" stroke-opacity="0.8" fill="none"><ellipse cx="270" cy="302.5" rx="5.4" ry="1.62" transform="rotate(12 270 302.5)"/><ellipse cx="270" cy="302.5" rx="5.4" ry="1.62" transform="rotate(57 270 302.5)"/><ellipse cx="270" cy="302.5" rx="5.4" ry="1.62" transform="rotate(102 270 302.5)"/><ellipse cx="270" cy="302.5" rx="5.4" ry="1.62" transform="rotate(147 270 302.5)"/></g><circle cx="270" cy="302.5" r="1.35" fill="#2BA3D6"/>
<g stroke="#2BA3D6" stroke-width="0.45" stroke-opacity="0.8" fill="none"><ellipse cx="356" cy="308.75" rx="5.4" ry="1.62" transform="rotate(12 356 308.75)"/><ellipse cx="356" cy="308.75" rx="5.4" ry="1.62" transform="rotate(57 356 308.75)"/><ellipse cx="356" cy="308.75" rx="5.4" ry="1.62" transform="rotate(102 356 308.75)"/><ellipse cx="356" cy="308.75" rx="5.4" ry="1.62" transform="rotate(147 356 308.75)"/></g><circle cx="356" cy="308.75" r="1.35" fill="#2BA3D6"/>
<g stroke="#2BA3D6" stroke-width="0.45" stroke-opacity="0.8" fill="none"><ellipse cx="278" cy="337" rx="5.4" ry="1.62" transform="rotate(12 278 337)"/><ellipse cx="278" cy="337" rx="5.4" ry="1.62" transform="rotate(57 278 337)"/><ellipse cx="278" cy="337" rx="5.4" ry="1.62" transform="rotate(102 278 337)"/><ellipse cx="278" cy="337" rx="5.4" ry="1.62" transform="rotate(147 278 337)"/></g><circle cx="278" cy="337" r="1.35" fill="#2BA3D6"/>
<g stroke="#2BA3D6" stroke-width="0.45" stroke-opacity="0.8" fill="none"><ellipse cx="362" cy="340" rx="5.4" ry="1.62" transform="rotate(12 362 340)"/><ellipse cx="362" cy="340" rx="5.4" ry="1.62" transform="rotate(57 362 340)"/><ellipse cx="362" cy="340" rx="5.4" ry="1.62" transform="rotate(102 362 340)"/><ellipse cx="362" cy="340" rx="5.4" ry="1.62" transform="rotate(147 362 340)"/></g><circle cx="362" cy="340" r="1.35" fill="#2BA3D6"/>
<path d="M270.5,182 L277.4,177.2 L276.6,180.6 L288.6,181.7 L288.6,182.3 L276.6,183.4 L277.4,186.8 Z" fill="#fff"/>
<path d="M362.3,182 L355.4,177.2 L356.2,180.6 L344.2,181.7 L344.2,182.3 L356.2,183.4 L355.4,186.8 Z" fill="#fff"/>
<path d="M270.5,209.3 L277.4,204.5 L276.6,207.9 L288.6,209.0 L288.6,209.60000000000002 L276.6,210.70000000000002 L277.4,214.10000000000002 Z" fill="#fff"/>
<path d="M362.3,209.3 L355.4,204.5 L356.2,207.9 L344.2,209.0 L344.2,209.60000000000002 L356.2,210.70000000000002 L355.4,214.10000000000002 Z" fill="#fff"/>
<path d="M270.5,236.4 L277.4,231.6 L276.6,235.0 L288.6,236.1 L288.6,236.70000000000002 L276.6,237.8 L277.4,241.20000000000002 Z" fill="#fff"/>
<path d="M362.3,236.4 L355.4,231.6 L356.2,235.0 L344.2,236.1 L344.2,236.70000000000002 L356.2,237.8 L355.4,241.20000000000002 Z" fill="#fff"/>
<path d="M270.5,263.8 L277.4,259.0 L276.6,262.40000000000003 L288.6,263.5 L288.6,264.1 L276.6,265.2 L277.4,268.6 Z" fill="#fff"/>
<path d="M362.3,263.8 L355.4,259.0 L356.2,262.40000000000003 L344.2,263.5 L344.2,264.1 L356.2,265.2 L355.4,268.6 Z" fill="#fff"/>
<path d="M270.5,292 L277.4,287.2 L276.6,290.6 L288.6,291.7 L288.6,292.3 L276.6,293.4 L277.4,296.8 Z" fill="#fff"/>
<path d="M362.3,292 L355.4,287.2 L356.2,290.6 L344.2,291.7 L344.2,292.3 L356.2,293.4 L355.4,296.8 Z" fill="#fff"/>
<path d="M270.5,319.5 L277.4,314.7 L276.6,318.1 L288.6,319.2 L288.6,319.8 L276.6,320.9 L277.4,324.3 Z" fill="#fff"/>
<path d="M362.3,319.5 L355.4,314.7 L356.2,318.1 L344.2,319.2 L344.2,319.8 L356.2,320.9 L355.4,324.3 Z" fill="#fff"/>
<path d="M259.4,363.4 L306,355 L306,387 L296,390 L259.4,396.3 Z" fill="#1FA5DB"/>
<path d="M264,362.6 L296,356.8 L296,390 L264,395.5 Z" fill="url(#hatch)"/>
<path d="M327.3,354.6 L374.6,362.3 L374.6,397.8 L337.7,389.8 L327.3,385.5 Z" fill="#1FA5DB"/>
<path d="M336.8,356.2 L371.2,361.8 L371.2,397 L337.7,389.8 Z" fill="url(#hatch)"/>
<path d="M259.9,364 V396 M264,362.8 V395.4 M371.2,362 V397 M374,362.4 V397.5" stroke="#fff" stroke-width="0.6" fill="none"/>
<path d="M305.9,354.6 A10.7,2.6 0 0 1 327.3,354.6 L327.3,397 A10.7,2.6 0 0 1 305.9,397 Z" fill="#fff"/>
<path d="M307.4,354.8 A9.2,2.2 0 0 1 325.8,354.8 L325.8,396 A9.2,2.2 0 0 1 307.4,396 Z" fill="#1FA5DB"/>
<ellipse cx="316.6" cy="354.8" rx="9.2" ry="2.2" fill="#5CC3EA" stroke="#fff" stroke-width="0.5"/>
<path d="M311.2,121.5 L317,119.8 L322.6,121.5 L322.6,333 Q322.6,335.6 317,335.6 Q311.2,335.6 311.2,333 Z" fill="#000"/>
<path d="M312.5,122.5 L317,121.2 L321.4,122.5 L321.4,332.6 Q321.4,334.4 317,334.4 Q312.5,334.4 312.5,332.6 Z" fill="#FBAE17"/>
<path d="M280.4,314.2 L312,320.6 L312,326.4 L279.4,319.8 Q276.6,316.6 280.4,314.2 Z M322,322.6 L355.6,329.4 Q358.6,332.6 354.8,335.2 L322,328.6 Z" fill="#000"/>
<path d="M280.7,315.5 L312.3,321.9 L312.3,325.1 L280.1,318.6 Q279,316.9 280.7,315.5 Z M321.6,323.8 L355,330.6 Q356.6,332.2 354.6,333.9 L321.6,327.2 Z" fill="#FBAE17"/>
<path d="M291.2,256.2 Q275,253.5 270.5,250.5 Q266.5,247 273.5,242.8 Q284,238.2 315,238 Q346,238.2 358.5,243.2 Q368,247.5 365.5,252.5 Q362,257.2 345.4,258.8 L345.6,265 L331.2,257.2 L343.8,246.8 L344.6,254.6 Q357.5,253.6 360.8,250.5 Q363,247.6 355,245 Q342,241 315,240.6 Q288,241 277.5,244.4 Q270.5,247 273.6,249.6 Q277.5,252.6 291.2,256.2 Z" fill="#5C2483"/>
</g>
<g id="pipes" fill="none" stroke-linejoin="round">
<ellipse cx="316.8" cy="115.4" rx="12.6" ry="3.5" fill="#fff" stroke="#000" stroke-width="0.9"/>
<path d="M336.9,91 V117" stroke="#000" stroke-width="15.6" stroke-linecap="butt"/>
<ellipse cx="336.9" cy="117.2" rx="6" ry="3.4" fill="#000"/>
<path d="M336.9,93.4 V117" stroke="#fff" stroke-width="9.8"/>
<ellipse cx="336.9" cy="117" rx="4.9" ry="2.6" fill="#fff" stroke="none"/>
<ellipse cx="336.9" cy="91.4" rx="7.8" ry="2.6" fill="#000"/>
<path d="M221,94.9 L316.8,70.4 L316.8,113" stroke="#000" stroke-width="15.6"/>
<path d="M221,94.9 L316.8,70.4 L316.8,113.5" stroke="#fff" stroke-width="9"/>
<ellipse cx="316.8" cy="113.6" rx="4.6" ry="1.5" fill="#fff" stroke="none"/>
<path d="M312.2,113.8 Q316.8,116.4 321.4,113.8" stroke="#000" stroke-width="0.6"/>
<ellipse cx="220.2" cy="94.9" rx="4.7" ry="7.9" fill="#000" transform="rotate(-14 220.2 94.9)"/>
</g>
<path d="M337.3,90.6 L335.3,60 L338.2,60 Z" fill="#5C2483"/>
<g id="rot" fill="none" stroke="#000">
<ellipse cx="315.75" cy="415.5" rx="42.7" ry="11.7" stroke-width="0.9"/>
<path d="M305,403.9 Q322,403.4 336,405.2 L336.4,402.6 L345.6,406.2 L336,409.2 L336.4,406.8 Q322,405 305,403.9 Z" fill="#000" stroke="none"/>
<path d="M325,427 Q310,427.8 296.5,426.2 L296.8,423.6 L286.6,427.2 L295.6,430.4 L296,428.2 Q310,429.4 325,427 Z" fill="#000" stroke="none"/>
</g>
<g fill="#5C2483"><circle cx="385.40" cy="19.40" r="0.85"/><circle cx="385.40" cy="21.60" r="0.85"/><circle cx="384.30" cy="23.80" r="0.85"/><circle cx="386.50" cy="23.80" r="0.85"/><circle cx="383.20" cy="26.00" r="0.85"/><circle cx="385.40" cy="26.00" r="0.85"/><circle cx="387.60" cy="26.00" r="0.85"/><circle cx="383.20" cy="28.20" r="0.85"/><circle cx="385.40" cy="28.20" r="0.85"/><circle cx="387.60" cy="28.20" r="0.85"/><circle cx="382.10" cy="30.40" r="0.85"/><circle cx="384.30" cy="30.40" r="0.85"/><circle cx="386.50" cy="30.40" r="0.85"/><circle cx="388.70" cy="30.40" r="0.85"/><circle cx="381.00" cy="32.60" r="0.85"/><circle cx="383.20" cy="32.60" r="0.85"/><circle cx="385.40" cy="32.60" r="0.85"/><circle cx="387.60" cy="32.60" r="0.85"/><circle cx="389.80" cy="32.60" r="0.85"/><circle cx="379.90" cy="34.80" r="0.85"/><circle cx="382.10" cy="34.80" r="0.85"/><circle cx="384.30" cy="34.80" r="0.85"/><circle cx="386.50" cy="34.80" r="0.85"/><circle cx="388.70" cy="34.80" r="0.85"/><circle cx="390.90" cy="34.80" r="0.85"/><circle cx="378.80" cy="37.00" r="0.85"/><circle cx="381.00" cy="37.00" r="0.85"/><circle cx="383.20" cy="37.00" r="0.85"/><circle cx="385.40" cy="37.00" r="0.85"/><circle cx="387.60" cy="37.00" r="0.85"/><circle cx="389.80" cy="37.00" r="0.85"/><circle cx="392.00" cy="37.00" r="0.85"/><circle cx="377.70" cy="39.20" r="0.85"/><circle cx="379.90" cy="39.20" r="0.85"/><circle cx="382.10" cy="39.20" r="0.85"/><circle cx="384.30" cy="39.20" r="0.85"/><circle cx="386.50" cy="39.20" r="0.85"/><circle cx="388.70" cy="39.20" r="0.85"/><circle cx="390.90" cy="39.20" r="0.85"/><circle cx="393.10" cy="39.20" r="0.85"/><circle cx="377.70" cy="41.40" r="0.85"/><circle cx="379.90" cy="41.40" r="0.85"/><circle cx="382.10" cy="41.40" r="0.85"/><circle cx="384.30" cy="41.40" r="0.85"/><circle cx="386.50" cy="41.40" r="0.85"/><circle cx="388.70" cy="41.40" r="0.85"/><circle cx="390.90" cy="41.40" r="0.85"/><circle cx="393.10" cy="41.40" r="0.85"/><circle cx="376.60" cy="43.60" r="0.85"/><circle cx="378.80" cy="43.60" r="0.85"/><circle cx="381.00" cy="43.60" r="0.85"/><circle cx="383.20" cy="43.60" r="0.85"/><circle cx="385.40" cy="43.60" r="0.85"/><circle cx="387.60" cy="43.60" r="0.85"/><circle cx="389.80" cy="43.60" r="0.85"/><circle cx="392.00" cy="43.60" r="0.85"/><circle cx="394.20" cy="43.60" r="0.85"/><circle cx="375.50" cy="45.80" r="0.85"/><circle cx="377.70" cy="45.80" r="0.85"/><circle cx="379.90" cy="45.80" r="0.85"/><circle cx="382.10" cy="45.80" r="0.85"/><circle cx="384.30" cy="45.80" r="0.85"/><circle cx="386.50" cy="45.80" r="0.85"/><circle cx="388.70" cy="45.80" r="0.85"/><circle cx="390.90" cy="45.80" r="0.85"/><circle cx="393.10" cy="45.80" r="0.85"/><circle cx="395.30" cy="45.80" r="0.85"/><circle cx="374.40" cy="48.00" r="0.85"/><circle cx="376.60" cy="48.00" r="0.85"/><circle cx="378.80" cy="48.00" r="0.85"/><circle cx="381.00" cy="48.00" r="0.85"/><circle cx="383.20" cy="48.00" r="0.85"/><circle cx="385.40" cy="48.00" r="0.85"/><circle cx="387.60" cy="48.00" r="0.85"/><circle cx="389.80" cy="48.00" r="0.85"/><circle cx="392.00" cy="48.00" r="0.85"/><circle cx="394.20" cy="48.00" r="0.85"/><circle cx="396.40" cy="48.00" r="0.85"/><circle cx="374.40" cy="50.20" r="0.85"/><circle cx="376.60" cy="50.20" r="0.85"/><circle cx="378.80" cy="50.20" r="0.85"/><circle cx="381.00" cy="50.20" r="0.85"/><circle cx="383.20" cy="50.20" r="0.85"/><circle cx="385.40" cy="50.20" r="0.85"/><circle cx="387.60" cy="50.20" r="0.85"/><circle cx="389.80" cy="50.20" r="0.85"/><circle cx="392.00" cy="50.20" r="0.85"/><circle cx="394.20" cy="50.20" r="0.85"/><circle cx="396.40" cy="50.20" r="0.85"/><circle cx="373.30" cy="52.40" r="0.85"/><circle cx="375.50" cy="52.40" r="0.85"/><circle cx="377.70" cy="52.40" r="0.85"/><circle cx="379.90" cy="52.40" r="0.85"/><circle cx="382.10" cy="52.40" r="0.85"/><circle cx="384.30" cy="52.40" r="0.85"/><circle cx="386.50" cy="52.40" r="0.85"/><circle cx="388.70" cy="52.40" r="0.85"/><circle cx="390.90" cy="52.40" r="0.85"/><circle cx="393.10" cy="52.40" r="0.85"/><circle cx="395.30" cy="52.40" r="0.85"/><circle cx="397.50" cy="52.40" r="0.85"/><circle cx="372.20" cy="54.60" r="0.85"/><circle cx="374.40" cy="54.60" r="0.85"/><circle cx="376.60" cy="54.60" r="0.85"/><circle cx="378.80" cy="54.60" r="0.85"/><circle cx="381.00" cy="54.60" r="0.85"/><circle cx="383.20" cy="54.60" r="0.85"/><circle cx="385.40" cy="54.60" r="0.85"/><circle cx="387.60" cy="54.60" r="0.85"/><circle cx="389.80" cy="54.60" r="0.85"/><circle cx="392.00" cy="54.60" r="0.85"/><circle cx="394.20" cy="54.60" r="0.85"/><circle cx="396.40" cy="54.60" r="0.85"/><circle cx="398.60" cy="54.60" r="0.85"/><circle cx="372.20" cy="56.80" r="0.85"/><circle cx="374.40" cy="56.80" r="0.85"/><circle cx="376.60" cy="56.80" r="0.85"/><circle cx="378.80" cy="56.80" r="0.85"/><circle cx="381.00" cy="56.80" r="0.85"/><circle cx="383.20" cy="56.80" r="0.85"/><circle cx="385.40" cy="56.80" r="0.85"/><circle cx="387.60" cy="56.80" r="0.85"/><circle cx="389.80" cy="56.80" r="0.85"/><circle cx="392.00" cy="56.80" r="0.85"/><circle cx="394.20" cy="56.80" r="0.85"/><circle cx="396.40" cy="56.80" r="0.85"/><circle cx="398.60" cy="56.80" r="0.85"/><circle cx="372.20" cy="59.00" r="0.85"/><circle cx="374.40" cy="59.00" r="0.85"/><circle cx="376.60" cy="59.00" r="0.85"/><circle cx="378.80" cy="59.00" r="0.85"/><circle cx="381.00" cy="59.00" r="0.85"/><circle cx="383.20" cy="59.00" r="0.85"/><circle cx="385.40" cy="59.00" r="0.85"/><circle cx="387.60" cy="59.00" r="0.85"/><circle cx="389.80" cy="59.00" r="0.85"/><circle cx="392.00" cy="59.00" r="0.85"/><circle cx="394.20" cy="59.00" r="0.85"/><circle cx="396.40" cy="59.00" r="0.85"/><circle cx="398.60" cy="59.00" r="0.85"/><circle cx="374.40" cy="61.20" r="0.85"/><circle cx="376.60" cy="61.20" r="0.85"/><circle cx="378.80" cy="61.20" r="0.85"/><circle cx="381.00" cy="61.20" r="0.85"/><circle cx="383.20" cy="61.20" r="0.85"/><circle cx="385.40" cy="61.20" r="0.85"/><circle cx="387.60" cy="61.20" r="0.85"/><circle cx="389.80" cy="61.20" r="0.85"/><circle cx="392.00" cy="61.20" r="0.85"/><circle cx="394.20" cy="61.20" r="0.85"/><circle cx="396.40" cy="61.20" r="0.85"/><circle cx="376.60" cy="63.40" r="0.85"/><circle cx="378.80" cy="63.40" r="0.85"/><circle cx="381.00" cy="63.40" r="0.85"/><circle cx="383.20" cy="63.40" r="0.85"/><circle cx="385.40" cy="63.40" r="0.85"/><circle cx="387.60" cy="63.40" r="0.85"/><circle cx="389.80" cy="63.40" r="0.85"/><circle cx="392.00" cy="63.40" r="0.85"/><circle cx="394.20" cy="63.40" r="0.85"/><circle cx="378.80" cy="65.60" r="0.85"/><circle cx="381.00" cy="65.60" r="0.85"/><circle cx="383.20" cy="65.60" r="0.85"/><circle cx="385.40" cy="65.60" r="0.85"/><circle cx="387.60" cy="65.60" r="0.85"/><circle cx="389.80" cy="65.60" r="0.85"/><circle cx="392.00" cy="65.60" r="0.85"/><circle cx="381.00" cy="67.80" r="0.85"/><circle cx="383.20" cy="67.80" r="0.85"/><circle cx="385.40" cy="67.80" r="0.85"/><circle cx="387.60" cy="67.80" r="0.85"/><circle cx="389.80" cy="67.80" r="0.85"/></g>
<g fill="#5C2483"><circle cx="421.95" cy="242.60" r="0.85"/><circle cx="424.30" cy="242.60" r="0.85"/><circle cx="426.65" cy="242.60" r="0.85"/><circle cx="419.60" cy="244.95" r="0.85"/><circle cx="421.95" cy="244.95" r="0.85"/><circle cx="424.30" cy="244.95" r="0.85"/><circle cx="426.65" cy="244.95" r="0.85"/><circle cx="429.00" cy="244.95" r="0.85"/><circle cx="418.43" cy="247.30" r="0.85"/><circle cx="420.78" cy="247.30" r="0.85"/><circle cx="423.12" cy="247.30" r="0.85"/><circle cx="425.48" cy="247.30" r="0.85"/><circle cx="427.82" cy="247.30" r="0.85"/><circle cx="430.18" cy="247.30" r="0.85"/><circle cx="417.25" cy="249.65" r="0.85"/><circle cx="419.60" cy="249.65" r="0.85"/><circle cx="421.95" cy="249.65" r="0.85"/><circle cx="424.30" cy="249.65" r="0.85"/><circle cx="426.65" cy="249.65" r="0.85"/><circle cx="429.00" cy="249.65" r="0.85"/><circle cx="431.35" cy="249.65" r="0.85"/><circle cx="414.90" cy="252.00" r="0.85"/><circle cx="417.25" cy="252.00" r="0.85"/><circle cx="419.60" cy="252.00" r="0.85"/><circle cx="421.95" cy="252.00" r="0.85"/><circle cx="424.30" cy="252.00" r="0.85"/><circle cx="426.65" cy="252.00" r="0.85"/><circle cx="429.00" cy="252.00" r="0.85"/><circle cx="431.35" cy="252.00" r="0.85"/><circle cx="433.70" cy="252.00" r="0.85"/><circle cx="413.73" cy="254.35" r="0.85"/><circle cx="416.07" cy="254.35" r="0.85"/><circle cx="418.43" cy="254.35" r="0.85"/><circle cx="420.78" cy="254.35" r="0.85"/><circle cx="423.12" cy="254.35" r="0.85"/><circle cx="425.48" cy="254.35" r="0.85"/><circle cx="427.82" cy="254.35" r="0.85"/><circle cx="430.18" cy="254.35" r="0.85"/><circle cx="432.53" cy="254.35" r="0.85"/><circle cx="434.88" cy="254.35" r="0.85"/><circle cx="412.55" cy="256.70" r="0.85"/><circle cx="414.90" cy="256.70" r="0.85"/><circle cx="417.25" cy="256.70" r="0.85"/><circle cx="419.60" cy="256.70" r="0.85"/><circle cx="421.95" cy="256.70" r="0.85"/><circle cx="424.30" cy="256.70" r="0.85"/><circle cx="426.65" cy="256.70" r="0.85"/><circle cx="429.00" cy="256.70" r="0.85"/><circle cx="431.35" cy="256.70" r="0.85"/><circle cx="433.70" cy="256.70" r="0.85"/><circle cx="436.05" cy="256.70" r="0.85"/><circle cx="411.38" cy="259.05" r="0.85"/><circle cx="413.73" cy="259.05" r="0.85"/><circle cx="416.07" cy="259.05" r="0.85"/><circle cx="418.43" cy="259.05" r="0.85"/><circle cx="420.78" cy="259.05" r="0.85"/><circle cx="423.12" cy="259.05" r="0.85"/><circle cx="425.48" cy="259.05" r="0.85"/><circle cx="427.82" cy="259.05" r="0.85"/><circle cx="430.18" cy="259.05" r="0.85"/><circle cx="432.53" cy="259.05" r="0.85"/><circle cx="434.88" cy="259.05" r="0.85"/><circle cx="437.23" cy="259.05" r="0.85"/><circle cx="411.38" cy="261.40" r="0.85"/><circle cx="413.73" cy="261.40" r="0.85"/><circle cx="416.07" cy="261.40" r="0.85"/><circle cx="418.43" cy="261.40" r="0.85"/><circle cx="420.78" cy="261.40" r="0.85"/><circle cx="423.12" cy="261.40" r="0.85"/><circle cx="425.48" cy="261.40" r="0.85"/><circle cx="427.82" cy="261.40" r="0.85"/><circle cx="430.18" cy="261.40" r="0.85"/><circle cx="432.53" cy="261.40" r="0.85"/><circle cx="434.88" cy="261.40" r="0.85"/><circle cx="437.23" cy="261.40" r="0.85"/><circle cx="412.55" cy="263.75" r="0.85"/><circle cx="414.90" cy="263.75" r="0.85"/><circle cx="417.25" cy="263.75" r="0.85"/><circle cx="419.60" cy="263.75" r="0.85"/><circle cx="421.95" cy="263.75" r="0.85"/><circle cx="424.30" cy="263.75" r="0.85"/><circle cx="426.65" cy="263.75" r="0.85"/><circle cx="429.00" cy="263.75" r="0.85"/><circle cx="431.35" cy="263.75" r="0.85"/><circle cx="433.70" cy="263.75" r="0.85"/><circle cx="436.05" cy="263.75" r="0.85"/><circle cx="413.73" cy="266.10" r="0.85"/><circle cx="416.07" cy="266.10" r="0.85"/><circle cx="418.43" cy="266.10" r="0.85"/><circle cx="420.78" cy="266.10" r="0.85"/><circle cx="423.12" cy="266.10" r="0.85"/><circle cx="425.48" cy="266.10" r="0.85"/><circle cx="427.82" cy="266.10" r="0.85"/><circle cx="430.18" cy="266.10" r="0.85"/><circle cx="432.53" cy="266.10" r="0.85"/><circle cx="434.88" cy="266.10" r="0.85"/><circle cx="416.07" cy="268.45" r="0.85"/><circle cx="418.43" cy="268.45" r="0.85"/><circle cx="420.78" cy="268.45" r="0.85"/><circle cx="423.12" cy="268.45" r="0.85"/><circle cx="425.48" cy="268.45" r="0.85"/><circle cx="427.82" cy="268.45" r="0.85"/><circle cx="430.18" cy="268.45" r="0.85"/><circle cx="432.53" cy="268.45" r="0.85"/><circle cx="418.43" cy="270.80" r="0.85"/><circle cx="420.78" cy="270.80" r="0.85"/><circle cx="423.12" cy="270.80" r="0.85"/><circle cx="425.48" cy="270.80" r="0.85"/><circle cx="427.82" cy="270.80" r="0.85"/><circle cx="430.18" cy="270.80" r="0.85"/></g>
<g id="casc1">
<path d="M417.50,24.40 Q417.50,21.80 420.10,21.80 L424.50,21.80 Q427.10,21.80 427.10,24.40 L427.10,56.60 Q427.10,58.40 425.30,58.40 L419.30,58.40 Q417.50,58.40 417.50,56.60 Z" fill="url(#gC1)"/><path d="M417.80,24.00 H426.80" stroke="#fff" stroke-opacity="0.45" stroke-width="0.5"/>
<path d="M435.55,24.40 Q435.55,21.80 438.15,21.80 L442.55,21.80 Q445.15,21.80 445.15,24.40 L445.15,56.60 Q445.15,58.40 443.35,58.40 L437.35,58.40 Q435.55,58.40 435.55,56.60 Z" fill="url(#gC1)"/><path d="M435.85,24.00 H444.85" stroke="#fff" stroke-opacity="0.45" stroke-width="0.5"/>
<path d="M453.60,24.40 Q453.60,21.80 456.20,21.80 L460.60,21.80 Q463.20,21.80 463.20,24.40 L463.20,56.60 Q463.20,58.40 461.40,58.40 L455.40,58.40 Q453.60,58.40 453.60,56.60 Z" fill="url(#gC1)"/><path d="M453.90,24.00 H462.90" stroke="#fff" stroke-opacity="0.45" stroke-width="0.5"/>
<path d="M471.65,24.40 Q471.65,21.80 474.25,21.80 L478.65,21.80 Q481.25,21.80 481.25,24.40 L481.25,56.60 Q481.25,58.40 479.45,58.40 L473.45,58.40 Q471.65,58.40 471.65,56.60 Z" fill="url(#gC1)"/><path d="M471.95,24.00 H480.95" stroke="#fff" stroke-opacity="0.45" stroke-width="0.5"/>
<path d="M489.70,24.40 Q489.70,21.80 492.30,21.80 L496.70,21.80 Q499.30,21.80 499.30,24.40 L499.30,56.60 Q499.30,58.40 497.50,58.40 L491.50,58.40 Q489.70,58.40 489.70,56.60 Z" fill="url(#gC1)"/><path d="M490.00,24.00 H499.00" stroke="#fff" stroke-opacity="0.45" stroke-width="0.5"/>
<path d="M507.75,24.40 Q507.75,21.80 510.35,21.80 L514.75,21.80 Q517.35,21.80 517.35,24.40 L517.35,56.60 Q517.35,58.40 515.55,58.40 L509.55,58.40 Q507.75,58.40 507.75,56.60 Z" fill="url(#gC1)"/><path d="M508.05,24.00 H517.05" stroke="#fff" stroke-opacity="0.45" stroke-width="0.5"/>
<path d="M525.80,24.40 Q525.80,21.80 528.40,21.80 L532.80,21.80 Q535.40,21.80 535.40,24.40 L535.40,56.60 Q535.40,58.40 533.60,58.40 L527.60,58.40 Q525.80,58.40 525.80,56.60 Z" fill="url(#gC1)"/><path d="M526.10,24.00 H535.10" stroke="#fff" stroke-opacity="0.45" stroke-width="0.5"/>
<path d="M543.85,24.40 Q543.85,21.80 546.45,21.80 L550.85,21.80 Q553.45,21.80 553.45,24.40 L553.45,56.60 Q553.45,58.40 551.65,58.40 L545.65,58.40 Q543.85,58.40 543.85,56.60 Z" fill="url(#gC1)"/><path d="M544.15,24.00 H553.15" stroke="#fff" stroke-opacity="0.45" stroke-width="0.5"/>
<path d="M561.90,24.40 Q561.90,21.80 564.50,21.80 L568.90,21.80 Q571.50,21.80 571.50,24.40 L571.50,56.60 Q571.50,58.40 569.70,58.40 L563.70,58.40 Q561.90,58.40 561.90,56.60 Z" fill="url(#gC1)"/><path d="M562.20,24.00 H571.20" stroke="#fff" stroke-opacity="0.45" stroke-width="0.5"/>
<path d="M579.95,24.40 Q579.95,21.80 582.55,21.80 L586.95,21.80 Q589.55,21.80 589.55,24.40 L589.55,56.60 Q589.55,58.40 587.75,58.40 L581.75,58.40 Q579.95,58.40 579.95,56.60 Z" fill="url(#gC1)"/><path d="M580.25,24.00 H589.25" stroke="#fff" stroke-opacity="0.45" stroke-width="0.5"/>
<g fill="none" stroke="url(#gC1)" stroke-width="2.5" stroke-opacity="0.85" stroke-linejoin="miter"><path d="M423.70,21.4 V17.3 H438.95 V21.4 M441.75,21.4 V17.3 H457.00 V21.4 M459.80,21.4 V17.3 H475.05 V21.4 M477.85,21.4 V17.3 H493.10 V21.4 M495.90,21.4 V17.3 H511.15 V21.4 M513.95,21.4 V17.3 H529.20 V21.4 M532.00,21.4 V17.3 H547.25 V21.4 M550.05,21.4 V17.3 H565.30 V21.4 M568.10,21.4 V17.3 H583.35 V21.4 "/></g><g fill="none" stroke="#fff" stroke-width="0.75"><path d="M423.70,21.4 V17.3 H438.95 V21.4 M441.75,21.4 V17.3 H457.00 V21.4 M459.80,21.4 V17.3 H475.05 V21.4 M477.85,21.4 V17.3 H493.10 V21.4 M495.90,21.4 V17.3 H511.15 V21.4 M513.95,21.4 V17.3 H529.20 V21.4 M532.00,21.4 V17.3 H547.25 V21.4 M550.05,21.4 V17.3 H565.30 V21.4 M568.10,21.4 V17.3 H583.35 V21.4 "/></g>
<path d="M420.90000000000003,21.4 V17.3 H413.2 L404.2,26.6 H411.70000000000005 V30 M586.15,21.4 V17.3 H593.6 L583.8,26.6 H576.95 V30" fill="none" stroke="url(#gC1)" stroke-width="2.5" stroke-opacity="0.85"/><path d="M420.90000000000003,21.4 V17.3 H413.2 L404.2,26.6 H411.70000000000005 V30 M586.15,21.4 V17.3 H593.6 L583.8,26.6 H576.95 V30" fill="none" stroke="#fff" stroke-width="0.75"/>
<path d="M407.85,32.75 Q407.85,30.15 410.45,30.15 L415.75,30.15 Q418.35,30.15 418.35,32.75 L418.35,66.55 Q418.35,68.35 416.55,68.35 L409.65,68.35 Q407.85,68.35 407.85,66.55 Z" fill="url(#gC1)" stroke="#fff" stroke-width="1.1"/><path d="M408.70,32.90 H417.50" stroke="#fff" stroke-opacity="0.45" stroke-width="0.5"/>
<path d="M425.90,32.75 Q425.90,30.15 428.50,30.15 L433.80,30.15 Q436.40,30.15 436.40,32.75 L436.40,66.55 Q436.40,68.35 434.60,68.35 L427.70,68.35 Q425.90,68.35 425.90,66.55 Z" fill="url(#gC1)" stroke="#fff" stroke-width="1.1"/><path d="M426.75,32.90 H435.55" stroke="#fff" stroke-opacity="0.45" stroke-width="0.5"/>
<path d="M443.95,32.75 Q443.95,30.15 446.55,30.15 L451.85,30.15 Q454.45,30.15 454.45,32.75 L454.45,66.55 Q454.45,68.35 452.65,68.35 L445.75,68.35 Q443.95,68.35 443.95,66.55 Z" fill="url(#gC1)" stroke="#fff" stroke-width="1.1"/><path d="M444.80,32.90 H453.60" stroke="#fff" stroke-opacity="0.45" stroke-width="0.5"/>
<path d="M462.00,32.75 Q462.00,30.15 464.60,30.15 L469.90,30.15 Q472.50,30.15 472.50,32.75 L472.50,66.55 Q472.50,68.35 470.70,68.35 L463.80,68.35 Q462.00,68.35 462.00,66.55 Z" fill="url(#gC1)" stroke="#fff" stroke-width="1.1"/><path d="M462.85,32.90 H471.65" stroke="#fff" stroke-opacity="0.45" stroke-width="0.5"/>
<path d="M480.05,32.75 Q480.05,30.15 482.65,30.15 L487.95,30.15 Q490.55,30.15 490.55,32.75 L490.55,66.55 Q490.55,68.35 488.75,68.35 L481.85,68.35 Q480.05,68.35 480.05,66.55 Z" fill="url(#gC1)" stroke="#fff" stroke-width="1.1"/><path d="M480.90,32.90 H489.70" stroke="#fff" stroke-opacity="0.45" stroke-width="0.5"/>
<path d="M498.10,32.75 Q498.10,30.15 500.70,30.15 L506.00,30.15 Q508.60,30.15 508.60,32.75 L508.60,66.55 Q508.60,68.35 506.80,68.35 L499.90,68.35 Q498.10,68.35 498.10,66.55 Z" fill="url(#gC1)" stroke="#fff" stroke-width="1.1"/><path d="M498.95,32.90 H507.75" stroke="#fff" stroke-opacity="0.45" stroke-width="0.5"/>
<path d="M516.15,32.75 Q516.15,30.15 518.75,30.15 L524.05,30.15 Q526.65,30.15 526.65,32.75 L526.65,66.55 Q526.65,68.35 524.85,68.35 L517.95,68.35 Q516.15,68.35 516.15,66.55 Z" fill="url(#gC1)" stroke="#fff" stroke-width="1.1"/><path d="M517.00,32.90 H525.80" stroke="#fff" stroke-opacity="0.45" stroke-width="0.5"/>
<path d="M534.20,32.75 Q534.20,30.15 536.80,30.15 L542.10,30.15 Q544.70,30.15 544.70,32.75 L544.70,66.55 Q544.70,68.35 542.90,68.35 L536.00,68.35 Q534.20,68.35 534.20,66.55 Z" fill="url(#gC1)" stroke="#fff" stroke-width="1.1"/><path d="M535.05,32.90 H543.85" stroke="#fff" stroke-opacity="0.45" stroke-width="0.5"/>
<path d="M552.25,32.75 Q552.25,30.15 554.85,30.15 L560.15,30.15 Q562.75,30.15 562.75,32.75 L562.75,66.55 Q562.75,68.35 560.95,68.35 L554.05,68.35 Q552.25,68.35 552.25,66.55 Z" fill="url(#gC1)" stroke="#fff" stroke-width="1.1"/><path d="M553.10,32.90 H561.90" stroke="#fff" stroke-opacity="0.45" stroke-width="0.5"/>
<path d="M570.30,32.75 Q570.30,30.15 572.90,30.15 L578.20,30.15 Q580.80,30.15 580.80,32.75 L580.80,66.55 Q580.80,68.35 579.00,68.35 L572.10,68.35 Q570.30,68.35 570.30,66.55 Z" fill="url(#gC1)" stroke="#fff" stroke-width="1.1"/><path d="M571.15,32.90 H579.95" stroke="#fff" stroke-opacity="0.45" stroke-width="0.5"/>
<g fill="none" stroke="url(#gC1)" stroke-width="2.5" stroke-opacity="0.85" stroke-linejoin="miter"><path d="M414.50,30.4 V26.6 H429.75 V30.4 M432.55,30.4 V26.6 H447.80 V30.4 M450.60,30.4 V26.6 H465.85 V30.4 M468.65,30.4 V26.6 H483.90 V30.4 M486.70,30.4 V26.6 H501.95 V30.4 M504.75,30.4 V26.6 H520.00 V30.4 M522.80,30.4 V26.6 H538.05 V30.4 M540.85,30.4 V26.6 H556.10 V30.4 M558.90,30.4 V26.6 H574.15 V30.4 "/></g><g fill="none" stroke="#fff" stroke-width="0.75"><path d="M414.50,30.4 V26.6 H429.75 V30.4 M432.55,30.4 V26.6 H447.80 V30.4 M450.60,30.4 V26.6 H465.85 V30.4 M468.65,30.4 V26.6 H483.90 V30.4 M486.70,30.4 V26.6 H501.95 V30.4 M504.75,30.4 V26.6 H520.00 V30.4 M522.80,30.4 V26.6 H538.05 V30.4 M540.85,30.4 V26.6 H556.10 V30.4 M558.90,30.4 V26.6 H574.15 V30.4 "/></g>
</g>
<g id="casc2">
<path d="M448.05,276.55 Q448.05,273.95 450.65,273.95 L456.15,273.95 Q458.75,273.95 458.75,276.55 L458.75,298.45 Q458.75,300.25 456.95,300.25 L449.85,300.25 Q448.05,300.25 448.05,298.45 Z" fill="url(#gC2)" stroke="#fff" stroke-width="1.1"/><path d="M448.90,276.70 H457.90" stroke="#fff" stroke-opacity="0.45" stroke-width="0.5"/><path d="M466.25,276.55 Q466.25,273.95 468.85,273.95 L474.35,273.95 Q476.95,273.95 476.95,276.55 L476.95,298.45 Q476.95,300.25 475.15,300.25 L468.05,300.25 Q466.25,300.25 466.25,298.45 Z" fill="url(#gC2)" stroke="#fff" stroke-width="1.1"/><path d="M467.10,276.70 H476.10" stroke="#fff" stroke-opacity="0.45" stroke-width="0.5"/><path d="M484.45,276.55 Q484.45,273.95 487.05,273.95 L492.55,273.95 Q495.15,273.95 495.15,276.55 L495.15,298.45 Q495.15,300.25 493.35,300.25 L486.25,300.25 Q484.45,300.25 484.45,298.45 Z" fill="url(#gC2)" stroke="#fff" stroke-width="1.1"/><path d="M485.30,276.70 H494.30" stroke="#fff" stroke-opacity="0.45" stroke-width="0.5"/><path d="M502.65,276.55 Q502.65,273.95 505.25,273.95 L510.75,273.95 Q513.35,273.95 513.35,276.55 L513.35,298.45 Q513.35,300.25 511.55,300.25 L504.45,300.25 Q502.65,300.25 502.65,298.45 Z" fill="url(#gC2)" stroke="#fff" stroke-width="1.1"/><path d="M503.50,276.70 H512.50" stroke="#fff" stroke-opacity="0.45" stroke-width="0.5"/><path d="M520.85,276.55 Q520.85,273.95 523.45,273.95 L528.95,273.95 Q531.55,273.95 531.55,276.55 L531.55,298.45 Q531.55,300.25 529.75,300.25 L522.65,300.25 Q520.85,300.25 520.85,298.45 Z" fill="url(#gC2)" stroke="#fff" stroke-width="1.1"/><path d="M521.70,276.70 H530.70" stroke="#fff" stroke-opacity="0.45" stroke-width="0.5"/><path d="M539.05,276.55 Q539.05,273.95 541.65,273.95 L547.15,273.95 Q549.75,273.95 549.75,276.55 L549.75,298.45 Q549.75,300.25 547.95,300.25 L540.85,300.25 Q539.05,300.25 539.05,298.45 Z" fill="url(#gC2)" stroke="#fff" stroke-width="1.1"/><path d="M539.90,276.70 H548.90" stroke="#fff" stroke-opacity="0.45" stroke-width="0.5"/><path d="M557.25,276.55 Q557.25,273.95 559.85,273.95 L565.35,273.95 Q567.95,273.95 567.95,276.55 L567.95,298.45 Q567.95,300.25 566.15,300.25 L559.05,300.25 Q557.25,300.25 557.25,298.45 Z" fill="url(#gC2)" stroke="#fff" stroke-width="1.1"/><path d="M558.10,276.70 H567.10" stroke="#fff" stroke-opacity="0.45" stroke-width="0.5"/><g fill="none" stroke="url(#gC2)" stroke-width="2.5" stroke-opacity="0.85" stroke-linejoin="miter"><path d="M454.80,273.8 V269.6 H470.20 V273.8 M473.00,273.8 V269.6 H488.40 V273.8 M491.20,273.8 V269.6 H506.60 V273.8 M509.40,273.8 V269.6 H524.80 V273.8 M527.60,273.8 V269.6 H543.00 V273.8 M545.80,273.8 V269.6 H561.20 V273.8 "/></g><g fill="none" stroke="#fff" stroke-width="0.75"><path d="M454.80,273.8 V269.6 H470.20 V273.8 M473.00,273.8 V269.6 H488.40 V273.8 M491.20,273.8 V269.6 H506.60 V273.8 M509.40,273.8 V269.6 H524.80 V273.8 M527.60,273.8 V269.6 H543.00 V273.8 M545.80,273.8 V269.6 H561.20 V273.8 "/></g><path d="M452.0,273.8 V269.6 H444.7 L435.8,278.4 H442.90000000000003 V282 M564.0,273.8 V269.6 H570.6 L561.8000000000001,278.4 H554.9 V282" fill="none" stroke="url(#gC2)" stroke-width="2.5" stroke-opacity="0.85"/><path d="M452.0,273.8 V269.6 H444.7 L435.8,278.4 H442.90000000000003 V282 M564.0,273.8 V269.6 H570.6 L561.8000000000001,278.4 H554.9 V282" fill="none" stroke="#fff" stroke-width="0.75"/><path d="M438.85,285.35 Q438.85,282.75 441.45,282.75 L447.15,282.75 Q449.75,282.75 449.75,285.35 L449.75,307.75 Q449.75,309.55 447.95,309.55 L440.65,309.55 Q438.85,309.55 438.85,307.75 Z" fill="url(#gC2)" stroke="#fff" stroke-width="1.1"/><path d="M439.70,285.50 H448.90" stroke="#fff" stroke-opacity="0.45" stroke-width="0.5"/><path d="M457.05,285.35 Q457.05,282.75 459.65,282.75 L465.35,282.75 Q467.95,282.75 467.95,285.35 L467.95,307.75 Q467.95,309.55 466.15,309.55 L458.85,309.55 Q457.05,309.55 457.05,307.75 Z" fill="url(#gC2)" stroke="#fff" stroke-width="1.1"/><path d="M457.90,285.50 H467.10" stroke="#fff" stroke-opacity="0.45" stroke-width="0.5"/><path d="M475.25,285.35 Q475.25,282.75 477.85,282.75 L483.55,282.75 Q486.15,282.75 486.15,285.35 L486.15,307.75 Q486.15,309.55 484.35,309.55 L477.05,309.55 Q475.25,309.55 475.25,307.75 Z" fill="url(#gC2)" stroke="#fff" stroke-width="1.1"/><path d="M476.10,285.50 H485.30" stroke="#fff" stroke-opacity="0.45" stroke-width="0.5"/><path d="M493.45,285.35 Q493.45,282.75 496.05,282.75 L501.75,282.75 Q504.35,282.75 504.35,285.35 L504.35,307.75 Q504.35,309.55 502.55,309.55 L495.25,309.55 Q493.45,309.55 493.45,307.75 Z" fill="url(#gC2)" stroke="#fff" stroke-width="1.1"/><path d="M494.30,285.50 H503.50" stroke="#fff" stroke-opacity="0.45" stroke-width="0.5"/><path d="M511.65,285.35 Q511.65,282.75 514.25,282.75 L519.95,282.75 Q522.55,282.75 522.55,285.35 L522.55,307.75 Q522.55,309.55 520.75,309.55 L513.45,309.55 Q511.65,309.55 511.65,307.75 Z" fill="url(#gC2)" stroke="#fff" stroke-width="1.1"/><path d="M512.50,285.50 H521.70" stroke="#fff" stroke-opacity="0.45" stroke-width="0.5"/><path d="M529.85,285.35 Q529.85,282.75 532.45,282.75 L538.15,282.75 Q540.75,282.75 540.75,285.35 L540.75,307.75 Q540.75,309.55 538.95,309.55 L531.65,309.55 Q529.85,309.55 529.85,307.75 Z" fill="url(#gC2)" stroke="#fff" stroke-width="1.1"/><path d="M530.70,285.50 H539.90" stroke="#fff" stroke-opacity="0.45" stroke-width="0.5"/><path d="M548.05,285.35 Q548.05,282.75 550.65,282.75 L556.35,282.75 Q558.95,282.75 558.95,285.35 L558.95,307.75 Q558.95,309.55 557.15,309.55 L549.85,309.55 Q548.05,309.55 548.05,307.75 Z" fill="url(#gC2)" stroke="#fff" stroke-width="1.1"/><path d="M548.90,285.50 H558.10" stroke="#fff" stroke-opacity="0.45" stroke-width="0.5"/><g fill="none" stroke="url(#gC2)" stroke-width="2.5" stroke-opacity="0.85" stroke-linejoin="miter"><path d="M445.70,282 V278.4 H461.10 V282 M463.90,282 V278.4 H479.30 V282 M482.10,282 V278.4 H497.50 V282 M500.30,282 V278.4 H515.70 V282 M518.50,282 V278.4 H533.90 V282 M536.70,282 V278.4 H552.10 V282 "/></g><g fill="none" stroke="#fff" stroke-width="0.75"><path d="M445.70,282 V278.4 H461.10 V282 M463.90,282 V278.4 H479.30 V282 M482.10,282 V278.4 H497.50 V282 M500.30,282 V278.4 H515.70 V282 M518.50,282 V278.4 H533.90 V282 M536.70,282 V278.4 H552.10 V282 "/></g>
<path d="M429.85,295.55 Q429.85,292.95 432.45,292.95 L437.95,292.95 Q440.55,292.95 440.55,295.55 L440.55,317.45 Q440.55,319.25 438.75,319.25 L431.65,319.25 Q429.85,319.25 429.85,317.45 Z" fill="url(#gC2)" stroke="#fff" stroke-width="1.1"/><path d="M430.70,295.70 H439.70" stroke="#fff" stroke-opacity="0.45" stroke-width="0.5"/><path d="M448.05,295.55 Q448.05,292.95 450.65,292.95 L456.15,292.95 Q458.75,292.95 458.75,295.55 L458.75,317.45 Q458.75,319.25 456.95,319.25 L449.85,319.25 Q448.05,319.25 448.05,317.45 Z" fill="url(#gC2)" stroke="#fff" stroke-width="1.1"/><path d="M448.90,295.70 H457.90" stroke="#fff" stroke-opacity="0.45" stroke-width="0.5"/><path d="M466.25,295.55 Q466.25,292.95 468.85,292.95 L474.35,292.95 Q476.95,292.95 476.95,295.55 L476.95,317.45 Q476.95,319.25 475.15,319.25 L468.05,319.25 Q466.25,319.25 466.25,317.45 Z" fill="url(#gC2)" stroke="#fff" stroke-width="1.1"/><path d="M467.10,295.70 H476.10" stroke="#fff" stroke-opacity="0.45" stroke-width="0.5"/><path d="M484.45,295.55 Q484.45,292.95 487.05,292.95 L492.55,292.95 Q495.15,292.95 495.15,295.55 L495.15,317.45 Q495.15,319.25 493.35,319.25 L486.25,319.25 Q484.45,319.25 484.45,317.45 Z" fill="url(#gC2)" stroke="#fff" stroke-width="1.1"/><path d="M485.30,295.70 H494.30" stroke="#fff" stroke-opacity="0.45" stroke-width="0.5"/><path d="M502.65,295.55 Q502.65,292.95 505.25,292.95 L510.75,292.95 Q513.35,292.95 513.35,295.55 L513.35,317.45 Q513.35,319.25 511.55,319.25 L504.45,319.25 Q502.65,319.25 502.65,317.45 Z" fill="url(#gC2)" stroke="#fff" stroke-width="1.1"/><path d="M503.50,295.70 H512.50" stroke="#fff" stroke-opacity="0.45" stroke-width="0.5"/><path d="M520.85,295.55 Q520.85,292.95 523.45,292.95 L528.95,292.95 Q531.55,292.95 531.55,295.55 L531.55,317.45 Q531.55,319.25 529.75,319.25 L522.65,319.25 Q520.85,319.25 520.85,317.45 Z" fill="url(#gC2)" stroke="#fff" stroke-width="1.1"/><path d="M521.70,295.70 H530.70" stroke="#fff" stroke-opacity="0.45" stroke-width="0.5"/><path d="M539.05,295.55 Q539.05,292.95 541.65,292.95 L547.15,292.95 Q549.75,292.95 549.75,295.55 L549.75,317.45 Q549.75,319.25 547.95,319.25 L540.85,319.25 Q539.05,319.25 539.05,317.45 Z" fill="url(#gC2)" stroke="#fff" stroke-width="1.1"/><path d="M539.90,295.70 H548.90" stroke="#fff" stroke-opacity="0.45" stroke-width="0.5"/><g fill="none" stroke="url(#gC2)" stroke-width="2.5" stroke-opacity="0.85" stroke-linejoin="miter"><path d="M436.60,292.8 V288.6 H452.00 V292.8 M454.80,292.8 V288.6 H470.20 V292.8 M473.00,292.8 V288.6 H488.40 V292.8 M491.20,292.8 V288.6 H506.60 V292.8 M509.40,292.8 V288.6 H524.80 V292.8 M527.60,292.8 V288.6 H543.00 V292.8 "/></g><g fill="none" stroke="#fff" stroke-width="0.75"><path d="M436.60,292.8 V288.6 H452.00 V292.8 M454.80,292.8 V288.6 H470.20 V292.8 M473.00,292.8 V288.6 H488.40 V292.8 M491.20,292.8 V288.6 H506.60 V292.8 M509.40,292.8 V288.6 H524.80 V292.8 M527.60,292.8 V288.6 H543.00 V292.8 "/></g><path d="M433.8,292.8 V288.6 H426.5 L417.6,297.4 H424.70000000000005 V301 M545.8,292.8 V288.6 H552.4 L543.6,297.4 H536.6999999999999 V301" fill="none" stroke="url(#gC2)" stroke-width="2.5" stroke-opacity="0.85"/><path d="M433.8,292.8 V288.6 H426.5 L417.6,297.4 H424.70000000000005 V301 M545.8,292.8 V288.6 H552.4 L543.6,297.4 H536.6999999999999 V301" fill="none" stroke="#fff" stroke-width="0.75"/><path d="M420.65,304.35 Q420.65,301.75 423.25,301.75 L428.95,301.75 Q431.55,301.75 431.55,304.35 L431.55,326.75 Q431.55,328.55 429.75,328.55 L422.45,328.55 Q420.65,328.55 420.65,326.75 Z" fill="url(#gC2)" stroke="#fff" stroke-width="1.1"/><path d="M421.50,304.50 H430.70" stroke="#fff" stroke-opacity="0.45" stroke-width="0.5"/><path d="M438.85,304.35 Q438.85,301.75 441.45,301.75 L447.15,301.75 Q449.75,301.75 449.75,304.35 L449.75,326.75 Q449.75,328.55 447.95,328.55 L440.65,328.55 Q438.85,328.55 438.85,326.75 Z" fill="url(#gC2)" stroke="#fff" stroke-width="1.1"/><path d="M439.70,304.50 H448.90" stroke="#fff" stroke-opacity="0.45" stroke-width="0.5"/><path d="M457.05,304.35 Q457.05,301.75 459.65,301.75 L465.35,301.75 Q467.95,301.75 467.95,304.35 L467.95,326.75 Q467.95,328.55 466.15,328.55 L458.85,328.55 Q457.05,328.55 457.05,326.75 Z" fill="url(#gC2)" stroke="#fff" stroke-width="1.1"/><path d="M457.90,304.50 H467.10" stroke="#fff" stroke-opacity="0.45" stroke-width="0.5"/><path d="M475.25,304.35 Q475.25,301.75 477.85,301.75 L483.55,301.75 Q486.15,301.75 486.15,304.35 L486.15,326.75 Q486.15,328.55 484.35,328.55 L477.05,328.55 Q475.25,328.55 475.25,326.75 Z" fill="url(#gC2)" stroke="#fff" stroke-width="1.1"/><path d="M476.10,304.50 H485.30" stroke="#fff" stroke-opacity="0.45" stroke-width="0.5"/><path d="M493.45,304.35 Q493.45,301.75 496.05,301.75 L501.75,301.75 Q504.35,301.75 504.35,304.35 L504.35,326.75 Q504.35,328.55 502.55,328.55 L495.25,328.55 Q493.45,328.55 493.45,326.75 Z" fill="url(#gC2)" stroke="#fff" stroke-width="1.1"/><path d="M494.30,304.50 H503.50" stroke="#fff" stroke-opacity="0.45" stroke-width="0.5"/><path d="M511.65,304.35 Q511.65,301.75 514.25,301.75 L519.95,301.75 Q522.55,301.75 522.55,304.35 L522.55,326.75 Q522.55,328.55 520.75,328.55 L513.45,328.55 Q511.65,328.55 511.65,326.75 Z" fill="url(#gC2)" stroke="#fff" stroke-width="1.1"/><path d="M512.50,304.50 H521.70" stroke="#fff" stroke-opacity="0.45" stroke-width="0.5"/><path d="M529.85,304.35 Q529.85,301.75 532.45,301.75 L538.15,301.75 Q540.75,301.75 540.75,304.35 L540.75,326.75 Q540.75,328.55 538.95,328.55 L531.65,328.55 Q529.85,328.55 529.85,326.75 Z" fill="url(#gC2)" stroke="#fff" stroke-width="1.1"/><path d="M530.70,304.50 H539.90" stroke="#fff" stroke-opacity="0.45" stroke-width="0.5"/><g fill="none" stroke="url(#gC2)" stroke-width="2.5" stroke-opacity="0.85" stroke-linejoin="miter"><path d="M427.50,301 V297.4 H442.90 V301 M445.70,301 V297.4 H461.10 V301 M463.90,301 V297.4 H479.30 V301 M482.10,301 V297.4 H497.50 V301 M500.30,301 V297.4 H515.70 V301 M518.50,301 V297.4 H533.90 V301 "/></g><g fill="none" stroke="#fff" stroke-width="0.75"><path d="M427.50,301 V297.4 H442.90 V301 M445.70,301 V297.4 H461.10 V301 M463.90,301 V297.4 H479.30 V301 M482.10,301 V297.4 H497.50 V301 M500.30,301 V297.4 H515.70 V301 M518.50,301 V297.4 H533.90 V301 "/></g>
</g>
<g id="redarrow" fill="#DA2128">
<path d="M592.8,44.4 L620.8,42.4 L620.8,134.2 L540,134.2 L540.4,140.3 L528.9,132.3 L540.4,124.6 L540,130.2 L616.8,130.2 L616.8,46.2 Z"/>
</g>
<g id="mushroom" fill="#DA2128">
<ellipse cx="499" cy="94.5" rx="29" ry="12.5"/>
<circle cx="471.9" cy="90.0" r="5.0"/>
<circle cx="480.0" cy="86.8" r="5.3"/>
<circle cx="489.8" cy="84.6" r="5.3"/>
<circle cx="499.6" cy="83.2" r="5.3"/>
<circle cx="510.3" cy="85.0" r="5.3"/>
<circle cx="520.1" cy="88.5" r="5.3"/>
<circle cx="526.8" cy="94.1" r="5.0"/>
<circle cx="527.7" cy="99.9" r="4.3"/>
<circle cx="521.8" cy="104.2" r="4.3"/>
<circle cx="513.8" cy="106.0" r="3.9"/>
<circle cx="506.7" cy="104.8" r="3.9"/>
<circle cx="493.3" cy="106.0" r="3.9"/>
<circle cx="486.2" cy="104.8" r="3.9"/>
<circle cx="478.2" cy="104.8" r="4.3"/>
<circle cx="472.3" cy="101.2" r="4.6"/>
<circle cx="470.7" cy="95.8" r="4.6"/>
<path d="M493.3,106 L506.7,106 Q505.4,113 504.6,118.6 Q507.6,120 507.2,122 Q507,123.8 504.6,124.6 Q505.4,133 510.3,138 Q522,139.4 532.5,143.2 L464.8,143.2 Q477,139.4 490.6,138 Q494.6,133 495.4,124.6 Q493,123.8 492.8,122 Q492.6,120 495.4,118.6 Q494.6,113 493.3,106 Z"/>
</g>
<g fill="none" stroke="#fff" stroke-width="1" stroke-linecap="round">
<path d="M472.0,89.4 A2.4,2.4 0 0 1 473.4,85.7"/>
<path d="M479.7,84.4 A2.4,2.4 0 0 1 483.4,83.0"/>
<path d="M493.8,81.5 A2.4,2.4 0 0 1 497.7,80.8"/>
<path d="M507.0,82.8 A2.4,2.4 0 0 1 510.4,84.8"/>
<path d="M518.8,87.6 A2.4,2.4 0 0 1 521.3,90.6"/>
<path d="M471.4,100.3 A2.4,2.4 0 0 1 470.0,96.6"/>
<path d="M485.3,92.3 A2.4,2.4 0 0 1 489.2,93.0"/>
<path d="M502.0,91.8 A2.4,2.4 0 0 1 505.4,93.8"/>
<path d="M515.6,96.7 A2.4,2.4 0 0 1 517.0,100.4"/>
<path d="M499.0,105.4 A2.4,2.4 0 0 1 495.0,105.4"/>
<path d="M526.4,95.0 A2.4,2.4 0 0 1 526.4,99.0"/>
<path d="M481.0,104.2 A2.4,2.4 0 0 1 477.6,102.2"/>
<path d="M489.6,89.2 A2.4,2.4 0 0 1 492.6,86.7"/>
<path d="M509.3,91.3 A2.4,2.4 0 0 1 513.2,92.0"/>
<path d="M498,126 Q498.6,131 497.4,136.4 M500,125.4 V136.8 M502,126 Q501.4,131 502.6,136.4 M496.5,121.4 Q500,122.6 503.5,121.4" stroke-width="0.55"/>
</g>
<g id="plant" fill="#E9795B">
<circle cx="486.5" cy="213.4" r="5.5"/>
<circle cx="489.2" cy="208.7" r="6.0"/>
<circle cx="494.1" cy="203.2" r="6.8"/>
<circle cx="500.7" cy="197.7" r="5.5"/>
<circle cx="506.2" cy="193.9" r="5.5"/>
<circle cx="512.2" cy="191.7" r="4.9"/>
<circle cx="518.7" cy="189.5" r="4.9"/>
<circle cx="524.2" cy="189.4" r="4.4"/>
<circle cx="526.4" cy="189.8" r="3.3"/>
<circle cx="506.7" cy="214.1" r="5.5" stroke="#fff" stroke-width="0.9"/>
<circle cx="510.0" cy="209.7" r="5.0" stroke="#fff" stroke-width="0.9"/>
<circle cx="514.9" cy="206.0" r="4.4" stroke="#fff" stroke-width="0.9"/>
<circle cx="519.8" cy="202.7" r="4.2" stroke="#fff" stroke-width="0.9"/>
<circle cx="524.8" cy="200.6" r="3.9" stroke="#fff" stroke-width="0.9"/>
<circle cx="530.8" cy="198.3" r="3.8" stroke="#fff" stroke-width="0.9"/>
<circle cx="536.8" cy="196.5" r="4.0" stroke="#fff" stroke-width="0.9"/>
<circle cx="539.0" cy="196.5" r="3.1" stroke="#fff" stroke-width="0.9"/>
<circle cx="506.7" cy="214.1" r="5.5"/>
<circle cx="510.0" cy="209.7" r="5.0"/>
<circle cx="514.9" cy="206.0" r="4.4"/>
<circle cx="519.8" cy="202.7" r="4.2"/>
<circle cx="524.8" cy="200.6" r="3.9"/>
<circle cx="530.8" cy="198.3" r="3.8"/>
<circle cx="536.8" cy="196.5" r="4.0"/>
<circle cx="539.0" cy="196.5" r="3.1"/>
<circle cx="512.2" cy="191.7" r="4.9"/>
<circle cx="518.7" cy="189.5" r="4.9"/>
<circle cx="524.2" cy="189.4" r="4.4"/>
<circle cx="526.4" cy="189.8" r="3.3"/>
<path d="M479.2,216.5 Q489,213.6 498.8,216.5 Q497,234 501.5,251 L476,251 Q481.5,234 479.2,216.5 Z" stroke="#fff" stroke-width="0.8"/>
<path d="M499.4,219.5 Q506.5,217.4 513.6,219.5 Q512.4,231 515.5,243 L497,243 Q500.8,231 499.4,219.5 Z" stroke="#fff" stroke-width="0.8"/>
<rect x="518.9" y="224" width="1.2" height="13"/>
<path d="M508,252 V242 Q508,235 514.5,235 Q520.5,235 520.5,242 V252 Z" stroke="#fff" stroke-width="1.1"/>
<path d="M489.8,253 V243.5 Q489.8,234 499.3,234 Q508.8,234 508.8,243.5 V253 Z" stroke="#fff" stroke-width="1.1"/>
<path d="M489.8,244.2 H508.8 M508.8,243.4 H520.5" stroke="#fff" stroke-width="0.6" fill="none"/>
<path d="M471,251 L476,249.5 L498,254.8 L526,250.8 L526,253.4 L498,257.8 L471,253 Z" stroke="#fff" stroke-width="0.5"/>
<path d="M476,249.8 L498,255 L524,251.2 L501,248.5 Z"/>
</g>
<g id="salarrow" fill="#E9795B">
<path d="M565,309.8 L620.9,311.4 L620.9,242.3 L538,242.3 L538.4,237 L529,244.3 L538.4,251.4 L538,246.3 L616.9,246.3 L616.9,307.6 Z"/>
</g>
</svg></body></html>
